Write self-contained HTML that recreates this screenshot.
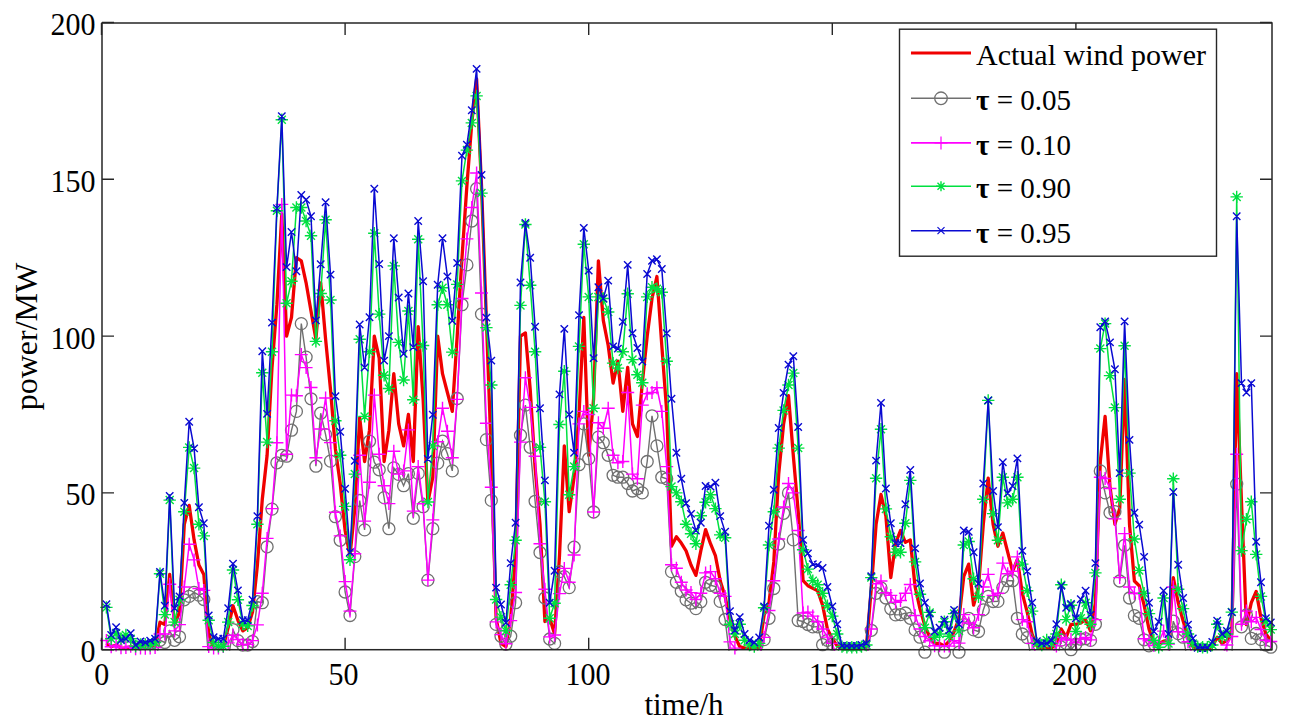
<!DOCTYPE html>
<html><head><meta charset="utf-8"><title>Wind power quantile forecast</title>
<style>html,body{margin:0;padding:0;background:#fff;}svg{display:block;}</style>
</head><body>
<svg width="1290" height="728" viewBox="0 0 1290 728" font-family="&quot;Liberation Serif&quot;, serif" font-size="30" fill="#000">
<rect width="1290" height="728" fill="#fff"/>
<defs><clipPath id="c"><rect x="102" y="23" width="1170" height="627.7"/></clipPath></defs>
<g>
<polyline clip-path="url(#c)" fill="none" stroke="#f00000" stroke-width="3.3" stroke-linejoin="round" points="106.4,643.4 111.2,646.6 116.1,645.0 121.0,648.1 125.9,648.1 130.7,646.6 135.6,648.1 140.5,648.1 145.3,648.1 150.2,648.1 155.1,646.6 160.0,622.1 164.8,624.6 169.7,574.4 174.6,624.6 179.5,612.1 184.3,524.3 189.2,505.4 194.1,539.9 198.9,565.0 203.8,574.4 208.7,634.0 213.6,648.1 218.4,648.1 223.3,646.6 228.2,627.7 233.0,605.8 237.9,620.2 242.8,630.9 247.7,627.7 252.5,612.1 257.4,565.0 262.3,499.2 267.1,455.3 272.0,367.5 276.9,304.7 281.8,213.8 286.6,336.1 291.5,317.3 296.4,257.7 301.3,260.8 306.1,282.8 311.0,311.0 315.9,339.2 320.7,282.8 325.6,339.2 330.5,389.4 335.4,449.0 340.2,483.5 345.1,530.5 350.0,555.6 354.8,508.6 359.7,417.6 364.6,461.5 369.5,430.2 374.3,336.1 379.2,358.1 384.1,461.5 388.9,430.2 393.8,373.7 398.7,423.9 403.6,445.9 408.4,414.5 413.3,461.5 418.2,326.7 423.1,398.8 427.9,502.3 432.8,477.2 437.7,336.1 442.5,373.7 447.4,392.5 452.3,411.4 457.2,336.1 462.0,257.7 466.9,185.6 471.8,122.9 476.6,78.9 481.5,185.6 486.4,320.4 491.3,455.3 496.1,618.3 501.0,643.4 505.9,646.6 510.7,618.3 515.6,555.6 520.5,336.1 525.4,333.0 530.2,389.4 535.1,467.8 540.0,524.3 544.9,621.5 549.7,618.3 554.6,634.0 559.5,555.6 564.3,445.9 569.2,511.7 574.1,477.2 579.0,414.5 583.8,317.3 588.7,455.3 593.6,398.8 598.4,260.8 603.3,320.4 608.2,345.5 613.1,383.1 617.9,361.2 622.8,411.4 627.7,367.5 632.5,423.9 637.4,436.5 642.3,383.1 647.2,336.1 652.0,298.5 656.9,276.5 661.8,345.5 666.7,411.4 671.5,546.2 676.4,536.8 681.3,543.1 686.1,550.9 691.0,565.0 695.9,575.4 700.8,550.9 705.6,529.6 710.5,543.7 715.4,555.6 720.2,580.7 725.1,596.4 730.0,619.6 734.9,636.2 739.7,646.6 744.6,648.1 749.5,648.1 754.3,648.1 759.2,648.1 764.1,615.2 769.0,602.7 773.8,561.9 778.7,474.1 783.6,423.9 788.5,395.7 793.3,455.3 798.2,511.7 803.1,580.7 807.9,585.7 812.8,588.2 817.7,590.7 822.6,605.2 827.4,629.0 832.3,638.7 837.2,645.9 842.0,648.1 846.9,648.1 851.8,648.1 856.7,648.1 861.5,648.1 866.4,646.6 871.3,588.2 876.1,524.3 881.0,494.5 885.9,516.1 890.8,577.6 895.6,543.1 900.5,530.5 905.4,542.4 910.3,539.9 915.1,587.0 920.0,608.9 924.9,625.9 929.7,637.2 934.6,643.4 939.5,643.4 944.4,645.9 949.2,641.2 954.1,631.5 959.0,618.3 963.8,576.3 968.7,564.1 973.6,605.2 978.5,587.0 983.3,524.3 988.2,478.2 993.1,524.3 997.9,546.2 1002.8,533.0 1007.7,552.2 1012.6,571.3 1017.4,559.4 1022.3,593.3 1027.2,612.1 1032.1,634.0 1036.9,645.9 1041.8,648.1 1046.7,648.1 1051.5,648.1 1056.4,643.4 1061.3,629.0 1066.2,637.2 1071.0,624.3 1075.9,624.3 1080.8,623.0 1085.6,619.6 1090.5,630.9 1095.4,602.7 1100.3,461.5 1105.1,416.4 1110.0,486.6 1114.9,524.3 1119.7,508.6 1124.6,379.4 1129.5,524.3 1134.4,581.0 1139.2,585.7 1144.1,605.2 1149.0,629.0 1153.9,643.4 1158.7,643.4 1163.6,641.2 1168.5,640.3 1173.3,577.6 1178.2,602.7 1183.1,620.8 1188.0,637.2 1192.8,646.6 1197.7,648.1 1202.6,648.1 1207.4,648.1 1212.3,646.6 1217.2,637.2 1222.1,643.4 1226.9,640.3 1231.8,634.0 1236.7,373.7 1241.5,502.3 1246.4,624.6 1251.3,602.7 1256.2,591.4 1261.0,618.3 1265.9,634.0 1270.8,640.3"/><polyline clip-path="url(#c)" fill="none" stroke="#707070" stroke-width="1.4" points="106.4,662.2 111.2,662.2 116.1,662.2 121.0,662.2 125.9,662.2 130.7,662.2 135.6,662.2 140.5,662.2 145.3,662.2 150.2,662.2 155.1,662.2 160.0,640.3 164.8,642.5 169.7,630.9 174.6,640.3 179.5,636.8 184.3,599.8 189.2,596.4 194.1,592.3 198.9,595.1 203.8,599.5 208.7,659.1 213.6,659.1 218.4,659.1 223.3,659.1 228.2,659.1 233.0,629.6 237.9,640.6 242.8,645.1 247.7,645.0 252.5,641.5 257.4,601.7 262.3,602.7 267.1,546.8 272.0,509.1 276.9,462.8 281.8,455.3 286.6,456.2 291.5,430.2 296.4,411.4 301.3,323.6 306.1,357.1 311.0,398.8 315.9,466.2 320.7,413.2 325.6,434.6 330.5,461.1 335.4,516.7 340.2,540.3 345.1,592.0 350.0,615.5 354.8,556.6 359.7,500.5 364.6,529.9 369.5,441.2 374.3,462.2 379.2,469.8 384.1,497.6 388.9,528.7 393.8,467.9 398.7,474.4 403.6,485.7 408.4,473.7 413.3,518.3 418.2,473.4 423.1,506.7 427.9,580.1 432.8,528.7 437.7,463.1 442.5,441.2 447.4,453.7 452.3,470.9 457.2,398.5 462.0,304.7 466.9,264.9 471.8,221.0 476.6,188.7 481.5,314.1 486.4,439.6 491.3,500.4 496.1,624.4 501.0,636.2 505.9,644.3 510.7,636.2 515.6,602.7 520.5,435.2 525.4,405.1 530.2,447.3 535.1,501.3 540.0,552.5 544.9,598.0 549.7,639.0 554.6,643.4 559.5,571.6 564.3,576.6 569.2,587.6 574.1,547.2 579.0,464.7 583.8,423.9 588.7,458.7 593.6,512.0 598.4,437.1 603.3,442.7 608.2,455.3 613.1,475.3 617.9,477.2 622.8,477.2 627.7,483.5 632.5,491.0 637.4,488.8 642.3,492.9 647.2,461.5 652.0,415.8 656.9,445.9 661.8,477.2 666.7,478.8 671.5,571.6 676.4,582.3 681.3,591.3 686.1,599.8 691.0,603.2 695.9,608.6 700.8,601.7 705.6,582.3 710.5,585.3 715.4,586.5 720.2,601.4 725.1,619.5 730.0,659.1 734.9,659.1 739.7,659.1 744.6,659.1 749.5,659.1 754.3,659.1 759.2,659.1 764.1,639.6 769.0,618.3 773.8,588.5 778.7,544.0 783.6,513.3 788.5,492.9 793.3,539.9 798.2,620.5 803.1,621.5 807.9,624.5 812.8,626.9 817.7,626.8 822.6,644.7 827.4,640.3 832.3,644.1 837.2,659.1 842.0,659.1 846.9,659.1 851.8,659.1 856.7,659.1 861.5,659.1 866.4,659.1 871.3,630.3 876.1,593.3 881.0,587.9 885.9,598.0 890.8,608.8 895.6,614.9 900.5,614.6 905.4,613.0 910.3,618.3 915.1,629.9 920.0,637.2 924.9,652.2 929.7,662.2 934.6,662.2 939.5,662.2 944.4,652.2 949.2,662.2 954.1,662.2 959.0,652.2 963.8,624.6 968.7,618.3 973.6,629.9 978.5,631.5 983.3,609.9 988.2,596.4 993.1,601.5 997.9,601.4 1002.8,587.6 1007.7,580.7 1012.6,580.7 1017.4,618.3 1022.3,634.0 1027.2,637.6 1032.1,662.2 1036.9,662.2 1041.8,662.2 1046.7,662.2 1051.5,662.2 1056.4,662.2 1061.3,640.1 1066.2,643.4 1071.0,649.7 1075.9,644.1 1080.8,639.2 1085.6,638.7 1090.5,640.4 1095.4,624.3 1100.3,470.9 1105.1,492.9 1110.0,512.7 1114.9,511.7 1119.7,581.0 1124.6,545.3 1129.5,598.0 1134.4,615.6 1139.2,618.3 1144.1,639.8 1149.0,645.9 1153.9,659.1 1158.7,659.1 1163.6,659.1 1168.5,659.1 1173.3,621.2 1178.2,633.6 1183.1,637.2 1188.0,662.2 1192.8,662.2 1197.7,662.2 1202.6,662.2 1207.4,662.2 1212.3,662.2 1217.2,662.2 1222.1,662.2 1226.9,662.2 1231.8,662.2 1236.7,484.1 1241.5,626.8 1246.4,615.0 1251.3,638.4 1256.2,633.5 1261.0,639.6 1265.9,645.0 1270.8,647.2"/><g fill="none" stroke="#707070" stroke-width="1.3"><circle cx="160.0" cy="640.3" r="6"/><circle cx="164.8" cy="642.5" r="6"/><circle cx="169.7" cy="630.9" r="6"/><circle cx="174.6" cy="640.3" r="6"/><circle cx="179.5" cy="636.8" r="6"/><circle cx="184.3" cy="599.8" r="6"/><circle cx="189.2" cy="596.4" r="6"/><circle cx="194.1" cy="592.3" r="6"/><circle cx="198.9" cy="595.1" r="6"/><circle cx="203.8" cy="599.5" r="6"/><circle cx="233.0" cy="629.6" r="6"/><circle cx="237.9" cy="640.6" r="6"/><circle cx="242.8" cy="645.1" r="6"/><circle cx="247.7" cy="645.0" r="6"/><circle cx="252.5" cy="641.5" r="6"/><circle cx="257.4" cy="601.7" r="6"/><circle cx="262.3" cy="602.7" r="6"/><circle cx="267.1" cy="546.8" r="6"/><circle cx="272.0" cy="509.1" r="6"/><circle cx="276.9" cy="462.8" r="6"/><circle cx="281.8" cy="455.3" r="6"/><circle cx="286.6" cy="456.2" r="6"/><circle cx="291.5" cy="430.2" r="6"/><circle cx="296.4" cy="411.4" r="6"/><circle cx="301.3" cy="323.6" r="6"/><circle cx="306.1" cy="357.1" r="6"/><circle cx="311.0" cy="398.8" r="6"/><circle cx="315.9" cy="466.2" r="6"/><circle cx="320.7" cy="413.2" r="6"/><circle cx="325.6" cy="434.6" r="6"/><circle cx="330.5" cy="461.1" r="6"/><circle cx="335.4" cy="516.7" r="6"/><circle cx="340.2" cy="540.3" r="6"/><circle cx="345.1" cy="592.0" r="6"/><circle cx="350.0" cy="615.5" r="6"/><circle cx="354.8" cy="556.6" r="6"/><circle cx="359.7" cy="500.5" r="6"/><circle cx="364.6" cy="529.9" r="6"/><circle cx="369.5" cy="441.2" r="6"/><circle cx="374.3" cy="462.2" r="6"/><circle cx="379.2" cy="469.8" r="6"/><circle cx="384.1" cy="497.6" r="6"/><circle cx="388.9" cy="528.7" r="6"/><circle cx="393.8" cy="467.9" r="6"/><circle cx="398.7" cy="474.4" r="6"/><circle cx="403.6" cy="485.7" r="6"/><circle cx="408.4" cy="473.7" r="6"/><circle cx="413.3" cy="518.3" r="6"/><circle cx="418.2" cy="473.4" r="6"/><circle cx="423.1" cy="506.7" r="6"/><circle cx="427.9" cy="580.1" r="6"/><circle cx="432.8" cy="528.7" r="6"/><circle cx="437.7" cy="463.1" r="6"/><circle cx="442.5" cy="441.2" r="6"/><circle cx="447.4" cy="453.7" r="6"/><circle cx="452.3" cy="470.9" r="6"/><circle cx="457.2" cy="398.5" r="6"/><circle cx="462.0" cy="304.7" r="6"/><circle cx="466.9" cy="264.9" r="6"/><circle cx="471.8" cy="221.0" r="6"/><circle cx="476.6" cy="188.7" r="6"/><circle cx="481.5" cy="314.1" r="6"/><circle cx="486.4" cy="439.6" r="6"/><circle cx="491.3" cy="500.4" r="6"/><circle cx="496.1" cy="624.4" r="6"/><circle cx="501.0" cy="636.2" r="6"/><circle cx="505.9" cy="644.3" r="6"/><circle cx="510.7" cy="636.2" r="6"/><circle cx="515.6" cy="602.7" r="6"/><circle cx="520.5" cy="435.2" r="6"/><circle cx="525.4" cy="405.1" r="6"/><circle cx="530.2" cy="447.3" r="6"/><circle cx="535.1" cy="501.3" r="6"/><circle cx="540.0" cy="552.5" r="6"/><circle cx="544.9" cy="598.0" r="6"/><circle cx="549.7" cy="639.0" r="6"/><circle cx="554.6" cy="643.4" r="6"/><circle cx="559.5" cy="571.6" r="6"/><circle cx="564.3" cy="576.6" r="6"/><circle cx="569.2" cy="587.6" r="6"/><circle cx="574.1" cy="547.2" r="6"/><circle cx="579.0" cy="464.7" r="6"/><circle cx="583.8" cy="423.9" r="6"/><circle cx="588.7" cy="458.7" r="6"/><circle cx="593.6" cy="512.0" r="6"/><circle cx="598.4" cy="437.1" r="6"/><circle cx="603.3" cy="442.7" r="6"/><circle cx="608.2" cy="455.3" r="6"/><circle cx="613.1" cy="475.3" r="6"/><circle cx="617.9" cy="477.2" r="6"/><circle cx="622.8" cy="477.2" r="6"/><circle cx="627.7" cy="483.5" r="6"/><circle cx="632.5" cy="491.0" r="6"/><circle cx="637.4" cy="488.8" r="6"/><circle cx="642.3" cy="492.9" r="6"/><circle cx="647.2" cy="461.5" r="6"/><circle cx="652.0" cy="415.8" r="6"/><circle cx="656.9" cy="445.9" r="6"/><circle cx="661.8" cy="477.2" r="6"/><circle cx="666.7" cy="478.8" r="6"/><circle cx="671.5" cy="571.6" r="6"/><circle cx="676.4" cy="582.3" r="6"/><circle cx="681.3" cy="591.3" r="6"/><circle cx="686.1" cy="599.8" r="6"/><circle cx="691.0" cy="603.2" r="6"/><circle cx="695.9" cy="608.6" r="6"/><circle cx="700.8" cy="601.7" r="6"/><circle cx="705.6" cy="582.3" r="6"/><circle cx="710.5" cy="585.3" r="6"/><circle cx="715.4" cy="586.5" r="6"/><circle cx="720.2" cy="601.4" r="6"/><circle cx="725.1" cy="619.5" r="6"/><circle cx="764.1" cy="639.6" r="6"/><circle cx="769.0" cy="618.3" r="6"/><circle cx="773.8" cy="588.5" r="6"/><circle cx="778.7" cy="544.0" r="6"/><circle cx="783.6" cy="513.3" r="6"/><circle cx="788.5" cy="492.9" r="6"/><circle cx="793.3" cy="539.9" r="6"/><circle cx="798.2" cy="620.5" r="6"/><circle cx="803.1" cy="621.5" r="6"/><circle cx="807.9" cy="624.5" r="6"/><circle cx="812.8" cy="626.9" r="6"/><circle cx="817.7" cy="626.8" r="6"/><circle cx="822.6" cy="644.7" r="6"/><circle cx="827.4" cy="640.3" r="6"/><circle cx="832.3" cy="644.1" r="6"/><circle cx="871.3" cy="630.3" r="6"/><circle cx="876.1" cy="593.3" r="6"/><circle cx="881.0" cy="587.9" r="6"/><circle cx="885.9" cy="598.0" r="6"/><circle cx="890.8" cy="608.8" r="6"/><circle cx="895.6" cy="614.9" r="6"/><circle cx="900.5" cy="614.6" r="6"/><circle cx="905.4" cy="613.0" r="6"/><circle cx="910.3" cy="618.3" r="6"/><circle cx="915.1" cy="629.9" r="6"/><circle cx="920.0" cy="637.2" r="6"/><circle cx="924.9" cy="652.2" r="6"/><circle cx="944.4" cy="652.2" r="6"/><circle cx="959.0" cy="652.2" r="6"/><circle cx="963.8" cy="624.6" r="6"/><circle cx="968.7" cy="618.3" r="6"/><circle cx="973.6" cy="629.9" r="6"/><circle cx="978.5" cy="631.5" r="6"/><circle cx="983.3" cy="609.9" r="6"/><circle cx="988.2" cy="596.4" r="6"/><circle cx="993.1" cy="601.5" r="6"/><circle cx="997.9" cy="601.4" r="6"/><circle cx="1002.8" cy="587.6" r="6"/><circle cx="1007.7" cy="580.7" r="6"/><circle cx="1012.6" cy="580.7" r="6"/><circle cx="1017.4" cy="618.3" r="6"/><circle cx="1022.3" cy="634.0" r="6"/><circle cx="1027.2" cy="637.6" r="6"/><circle cx="1061.3" cy="640.1" r="6"/><circle cx="1066.2" cy="643.4" r="6"/><circle cx="1071.0" cy="649.7" r="6"/><circle cx="1075.9" cy="644.1" r="6"/><circle cx="1080.8" cy="639.2" r="6"/><circle cx="1085.6" cy="638.7" r="6"/><circle cx="1090.5" cy="640.4" r="6"/><circle cx="1095.4" cy="624.3" r="6"/><circle cx="1100.3" cy="470.9" r="6"/><circle cx="1105.1" cy="492.9" r="6"/><circle cx="1110.0" cy="512.7" r="6"/><circle cx="1114.9" cy="511.7" r="6"/><circle cx="1119.7" cy="581.0" r="6"/><circle cx="1124.6" cy="545.3" r="6"/><circle cx="1129.5" cy="598.0" r="6"/><circle cx="1134.4" cy="615.6" r="6"/><circle cx="1139.2" cy="618.3" r="6"/><circle cx="1144.1" cy="639.8" r="6"/><circle cx="1149.0" cy="645.9" r="6"/><circle cx="1173.3" cy="621.2" r="6"/><circle cx="1178.2" cy="633.6" r="6"/><circle cx="1183.1" cy="637.2" r="6"/><circle cx="1236.7" cy="484.1" r="6"/><circle cx="1241.5" cy="626.8" r="6"/><circle cx="1246.4" cy="615.0" r="6"/><circle cx="1251.3" cy="638.4" r="6"/><circle cx="1256.2" cy="633.5" r="6"/><circle cx="1261.0" cy="639.6" r="6"/><circle cx="1265.9" cy="645.0" r="6"/><circle cx="1270.8" cy="647.2" r="6"/></g><polyline clip-path="url(#c)" fill="none" stroke="#ff00ff" stroke-width="1.5" points="106.4,640.5 111.2,646.7 116.1,645.1 121.0,647.8 125.9,647.5 130.7,646.3 135.6,648.8 140.5,648.1 145.3,648.2 150.2,647.9 155.1,647.5 160.0,634.0 164.8,634.0 169.7,584.2 174.6,630.9 179.5,624.6 184.3,587.0 189.2,544.3 194.1,559.9 198.9,588.5 203.8,590.4 208.7,646.6 213.6,648.1 218.4,648.1 223.3,646.6 228.2,642.9 233.0,635.3 237.9,639.5 242.8,644.5 247.7,644.4 252.5,640.6 257.4,624.9 262.3,593.3 267.1,538.4 272.0,508.6 276.9,442.7 281.8,204.4 286.6,454.3 291.5,395.1 296.4,395.7 301.3,354.6 306.1,367.6 311.0,387.5 315.9,457.8 320.7,429.0 325.6,398.0 330.5,442.6 335.4,512.3 340.2,535.9 345.1,581.6 350.0,611.1 354.8,553.7 359.7,455.3 364.6,521.1 369.5,482.2 374.3,395.1 379.2,454.3 384.1,485.7 388.9,503.6 393.8,451.2 398.7,474.1 403.6,470.9 408.4,429.9 413.3,511.1 418.2,466.6 423.1,503.7 427.9,580.1 432.8,519.9 437.7,441.7 442.5,408.2 447.4,431.3 452.3,457.8 457.2,399.4 462.0,298.5 466.9,238.9 471.8,207.5 476.6,173.0 481.5,293.0 486.4,423.3 491.3,487.3 496.1,621.9 501.0,634.6 505.9,643.7 510.7,620.6 515.6,592.5 520.5,442.1 525.4,377.8 530.2,407.4 535.1,456.2 540.0,543.7 544.9,589.2 549.7,636.9 554.6,635.0 559.5,593.6 564.3,568.4 569.2,582.3 574.1,555.0 579.0,423.9 583.8,411.4 588.7,414.5 593.6,512.0 598.4,422.7 603.3,428.3 608.2,408.2 613.1,455.3 617.9,462.8 622.8,461.5 627.7,392.5 632.5,474.1 637.4,478.8 642.3,405.1 647.2,393.8 652.0,392.5 656.9,387.8 661.8,411.4 666.7,466.6 671.5,564.7 676.4,568.2 681.3,582.3 686.1,590.0 691.0,592.6 695.9,599.5 700.8,593.2 705.6,572.9 710.5,571.6 715.4,578.8 720.2,593.3 725.1,596.4 730.0,641.9 734.9,648.1 739.7,656.0 744.6,656.0 749.5,656.0 754.3,656.0 759.2,656.0 764.1,637.4 769.0,610.5 773.8,580.7 778.7,539.0 783.6,507.0 788.5,483.5 793.3,492.9 798.2,530.5 803.1,613.0 807.9,612.1 812.8,616.1 817.7,621.8 822.6,629.0 827.4,637.1 832.3,643.4 837.2,659.1 842.0,659.1 846.9,659.1 851.8,659.1 856.7,659.1 861.5,659.1 866.4,659.1 871.3,629.0 876.1,583.8 881.0,581.0 885.9,592.7 890.8,595.4 895.6,602.2 900.5,600.5 905.4,593.3 910.3,584.5 915.1,615.5 920.0,629.0 924.9,636.5 929.7,640.8 934.6,645.8 939.5,645.7 944.4,645.9 949.2,646.1 954.1,640.8 959.0,643.1 963.8,614.6 968.7,623.0 973.6,627.7 978.5,614.6 983.3,587.0 988.2,574.4 993.1,595.4 997.9,593.3 1002.8,563.1 1007.7,573.8 1012.6,571.3 1017.4,556.9 1022.3,619.6 1027.2,621.8 1032.1,643.4 1036.9,656.0 1041.8,656.0 1046.7,656.0 1051.5,656.0 1056.4,645.9 1061.3,637.5 1066.2,640.0 1071.0,639.4 1075.9,642.8 1080.8,638.9 1085.6,637.5 1090.5,639.9 1095.4,619.6 1100.3,477.2 1105.1,478.5 1110.0,488.5 1114.9,518.9 1119.7,577.6 1124.6,533.6 1129.5,587.0 1134.4,593.6 1139.2,593.3 1144.1,638.7 1149.0,640.7 1153.9,645.5 1158.7,642.1 1163.6,631.1 1168.5,644.1 1173.3,587.0 1178.2,631.8 1183.1,631.8 1188.0,641.7 1192.8,656.0 1197.7,656.0 1202.6,656.0 1207.4,656.0 1212.3,656.0 1217.2,656.0 1222.1,656.0 1226.9,645.0 1231.8,636.5 1236.7,454.3 1241.5,624.3 1246.4,611.1 1251.3,621.8 1256.2,617.4 1261.0,629.5 1265.9,640.3 1270.8,641.5"/><path fill="none" stroke="#ff00ff" stroke-width="1.4" d="M99.9 640.5H112.9M106.4 634.0V647.0M104.7 646.7H117.7M111.2 640.2V653.2M109.6 645.1H122.6M116.1 638.6V651.6M114.5 647.8H127.5M121.0 641.3V654.3M119.4 647.5H132.4M125.9 641.0V654.0M124.2 646.3H137.2M130.7 639.8V652.8M129.1 648.8H142.1M135.6 642.3V655.3M134.0 648.1H147.0M140.5 641.6V654.6M138.8 648.2H151.8M145.3 641.7V654.7M143.7 647.9H156.7M150.2 641.4V654.4M148.6 647.5H161.6M155.1 641.0V654.0M153.5 634.0H166.5M160.0 627.5V640.5M158.3 634.0H171.3M164.8 627.5V640.5M163.2 584.2H176.2M169.7 577.7V590.7M168.1 630.9H181.1M174.6 624.4V637.4M173.0 624.6H186.0M179.5 618.1V631.1M177.8 587.0H190.8M184.3 580.5V593.5M182.7 544.3H195.7M189.2 537.8V550.8M187.6 559.9H200.6M194.1 553.4V566.4M192.4 588.5H205.4M198.9 582.0V595.0M197.3 590.4H210.3M203.8 583.9V596.9M202.2 646.6H215.2M208.7 640.1V653.1M207.1 648.1H220.1M213.6 641.6V654.6M211.9 648.1H224.9M218.4 641.6V654.6M216.8 646.6H229.8M223.3 640.1V653.1M221.7 642.9H234.7M228.2 636.4V649.4M226.5 635.3H239.5M233.0 628.8V641.8M231.4 639.5H244.4M237.9 633.0V646.0M236.3 644.5H249.3M242.8 638.0V651.0M241.2 644.4H254.2M247.7 637.9V650.9M246.0 640.6H259.0M252.5 634.1V647.1M250.9 624.9H263.9M257.4 618.4V631.4M255.8 593.3H268.8M262.3 586.8V599.8M260.6 538.4H273.6M267.1 531.9V544.9M265.5 508.6H278.5M272.0 502.1V515.1M270.4 442.7H283.4M276.9 436.2V449.2M275.3 204.4H288.3M281.8 197.9V210.9M280.1 454.3H293.1M286.6 447.8V460.8M285.0 395.1H298.0M291.5 388.6V401.6M289.9 395.7H302.9M296.4 389.2V402.2M294.8 354.6H307.8M301.3 348.1V361.1M299.6 367.6H312.6M306.1 361.1V374.1M304.5 387.5H317.5M311.0 381.0V394.0M309.4 457.8H322.4M315.9 451.3V464.3M314.2 429.0H327.2M320.7 422.5V435.5M319.1 398.0H332.1M325.6 391.5V404.5M324.0 442.6H337.0M330.5 436.1V449.1M328.9 512.3H341.9M335.4 505.8V518.8M333.7 535.9H346.7M340.2 529.4V542.4M338.6 581.6H351.6M345.1 575.1V588.1M343.5 611.1H356.5M350.0 604.6V617.6M348.3 553.7H361.3M354.8 547.2V560.2M353.2 455.3H366.2M359.7 448.8V461.8M358.1 521.1H371.1M364.6 514.6V527.6M363.0 482.2H376.0M369.5 475.7V488.7M367.8 395.1H380.8M374.3 388.6V401.6M372.7 454.3H385.7M379.2 447.8V460.8M377.6 485.7H390.6M384.1 479.2V492.2M382.4 503.6H395.4M388.9 497.1V510.1M387.3 451.2H400.3M393.8 444.7V457.7M392.2 474.1H405.2M398.7 467.6V480.6M397.1 470.9H410.1M403.6 464.4V477.4M401.9 429.9H414.9M408.4 423.4V436.4M406.8 511.1H419.8M413.3 504.6V517.6M411.7 466.6H424.7M418.2 460.1V473.1M416.6 503.7H429.6M423.1 497.2V510.2M421.4 580.1H434.4M427.9 573.6V586.6M426.3 519.9H439.3M432.8 513.4V526.4M431.2 441.7H444.2M437.7 435.2V448.2M436.0 408.2H449.0M442.5 401.7V414.7M440.9 431.3H453.9M447.4 424.8V437.8M445.8 457.8H458.8M452.3 451.3V464.3M450.7 399.4H463.7M457.2 392.9V405.9M455.5 298.5H468.5M462.0 292.0V305.0M460.4 238.9H473.4M466.9 232.4V245.4M465.3 207.5H478.3M471.8 201.0V214.0M470.1 173.0H483.1M476.6 166.5V179.5M475.0 293.0H488.0M481.5 286.5V299.5M479.9 423.3H492.9M486.4 416.8V429.8M484.8 487.3H497.8M491.3 480.8V493.8M489.6 621.9H502.6M496.1 615.4V628.4M494.5 634.6H507.5M501.0 628.1V641.1M499.4 643.7H512.4M505.9 637.2V650.2M504.2 620.6H517.2M510.7 614.1V627.1M509.1 592.5H522.1M515.6 586.0V599.0M514.0 442.1H527.0M520.5 435.6V448.6M518.9 377.8H531.9M525.4 371.3V384.3M523.7 407.4H536.7M530.2 400.9V413.9M528.6 456.2H541.6M535.1 449.7V462.7M533.5 543.7H546.5M540.0 537.2V550.2M538.4 589.2H551.4M544.9 582.7V595.7M543.2 636.9H556.2M549.7 630.4V643.4M548.1 635.0H561.1M554.6 628.5V641.5M553.0 593.6H566.0M559.5 587.1V600.1M557.8 568.4H570.8M564.3 561.9V574.9M562.7 582.3H575.7M569.2 575.8V588.8M567.6 555.0H580.6M574.1 548.5V561.5M572.5 423.9H585.5M579.0 417.4V430.4M577.3 411.4H590.3M583.8 404.9V417.9M582.2 414.5H595.2M588.7 408.0V421.0M587.1 512.0H600.1M593.6 505.5V518.5M591.9 422.7H604.9M598.4 416.2V429.2M596.8 428.3H609.8M603.3 421.8V434.8M601.7 408.2H614.7M608.2 401.7V414.7M606.6 455.3H619.6M613.1 448.8V461.8M611.4 462.8H624.4M617.9 456.3V469.3M616.3 461.5H629.3M622.8 455.0V468.0M621.2 392.5H634.2M627.7 386.0V399.0M626.0 474.1H639.0M632.5 467.6V480.6M630.9 478.8H643.9M637.4 472.3V485.3M635.8 405.1H648.8M642.3 398.6V411.6M640.7 393.8H653.7M647.2 387.3V400.3M645.5 392.5H658.5M652.0 386.0V399.0M650.4 387.8H663.4M656.9 381.3V394.3M655.3 411.4H668.3M661.8 404.9V417.9M660.2 466.6H673.2M666.7 460.1V473.1M665.0 564.7H678.0M671.5 558.2V571.2M669.9 568.2H682.9M676.4 561.7V574.7M674.8 582.3H687.8M681.3 575.8V588.8M679.6 590.0H692.6M686.1 583.5V596.5M684.5 592.6H697.5M691.0 586.1V599.1M689.4 599.5H702.4M695.9 593.0V606.0M694.3 593.2H707.3M700.8 586.7V599.7M699.1 572.9H712.1M705.6 566.4V579.4M704.0 571.6H717.0M710.5 565.1V578.1M708.9 578.8H721.9M715.4 572.3V585.3M713.7 593.3H726.7M720.2 586.8V599.8M718.6 596.4H731.6M725.1 589.9V602.9M723.5 641.9H736.5M730.0 635.4V648.4M728.4 648.1H741.4M734.9 641.6V654.6M757.6 637.4H770.6M764.1 630.9V643.9M762.5 610.5H775.5M769.0 604.0V617.0M767.3 580.7H780.3M773.8 574.2V587.2M772.2 539.0H785.2M778.7 532.5V545.5M777.1 507.0H790.1M783.6 500.5V513.5M782.0 483.5H795.0M788.5 477.0V490.0M786.8 492.9H799.8M793.3 486.4V499.4M791.7 530.5H804.7M798.2 524.0V537.0M796.6 613.0H809.6M803.1 606.5V619.5M801.4 612.1H814.4M807.9 605.6V618.6M806.3 616.1H819.3M812.8 609.6V622.6M811.2 621.8H824.2M817.7 615.3V628.3M816.1 629.0H829.1M822.6 622.5V635.5M820.9 637.1H833.9M827.4 630.6V643.6M825.8 643.4H838.8M832.3 636.9V649.9M864.8 629.0H877.8M871.3 622.5V635.5M869.6 583.8H882.6M876.1 577.3V590.3M874.5 581.0H887.5M881.0 574.5V587.5M879.4 592.7H892.4M885.9 586.2V599.2M884.3 595.4H897.3M890.8 588.9V601.9M889.1 602.2H902.1M895.6 595.7V608.7M894.0 600.5H907.0M900.5 594.0V607.0M898.9 593.3H911.9M905.4 586.8V599.8M903.8 584.5H916.8M910.3 578.0V591.0M908.6 615.5H921.6M915.1 609.0V622.0M913.5 629.0H926.5M920.0 622.5V635.5M918.4 636.5H931.4M924.9 630.0V643.0M923.2 640.8H936.2M929.7 634.3V647.3M928.1 645.8H941.1M934.6 639.3V652.3M933.0 645.7H946.0M939.5 639.2V652.2M937.9 645.9H950.9M944.4 639.4V652.4M942.7 646.1H955.7M949.2 639.6V652.6M947.6 640.8H960.6M954.1 634.3V647.3M952.5 643.1H965.5M959.0 636.6V649.6M957.3 614.6H970.3M963.8 608.1V621.1M962.2 623.0H975.2M968.7 616.5V629.5M967.1 627.7H980.1M973.6 621.2V634.2M972.0 614.6H985.0M978.5 608.1V621.1M976.8 587.0H989.8M983.3 580.5V593.5M981.7 574.4H994.7M988.2 567.9V580.9M986.6 595.4H999.6M993.1 588.9V601.9M991.4 593.3H1004.4M997.9 586.8V599.8M996.3 563.1H1009.3M1002.8 556.6V569.6M1001.2 573.8H1014.2M1007.7 567.3V580.3M1006.1 571.3H1019.1M1012.6 564.8V577.8M1010.9 556.9H1023.9M1017.4 550.4V563.4M1015.8 619.6H1028.8M1022.3 613.1V626.1M1020.7 621.8H1033.7M1027.2 615.3V628.3M1025.6 643.4H1038.6M1032.1 636.9V649.9M1049.9 645.9H1062.9M1056.4 639.4V652.4M1054.8 637.5H1067.8M1061.3 631.0V644.0M1059.7 640.0H1072.7M1066.2 633.5V646.5M1064.5 639.4H1077.5M1071.0 632.9V645.9M1069.4 642.8H1082.4M1075.9 636.3V649.3M1074.3 638.9H1087.3M1080.8 632.4V645.4M1079.1 637.5H1092.1M1085.6 631.0V644.0M1084.0 639.9H1097.0M1090.5 633.4V646.4M1088.9 619.6H1101.9M1095.4 613.1V626.1M1093.8 477.2H1106.8M1100.3 470.7V483.7M1098.6 478.5H1111.6M1105.1 472.0V485.0M1103.5 488.5H1116.5M1110.0 482.0V495.0M1108.4 518.9H1121.4M1114.9 512.4V525.4M1113.2 577.6H1126.2M1119.7 571.1V584.1M1118.1 533.6H1131.1M1124.6 527.1V540.1M1123.0 587.0H1136.0M1129.5 580.5V593.5M1127.9 593.6H1140.9M1134.4 587.1V600.1M1132.7 593.3H1145.7M1139.2 586.8V599.8M1137.6 638.7H1150.6M1144.1 632.2V645.2M1142.5 640.7H1155.5M1149.0 634.2V647.2M1147.4 645.5H1160.4M1153.9 639.0V652.0M1152.2 642.1H1165.2M1158.7 635.6V648.6M1157.1 631.1H1170.1M1163.6 624.6V637.6M1162.0 644.1H1175.0M1168.5 637.6V650.6M1166.8 587.0H1179.8M1173.3 580.5V593.5M1171.7 631.8H1184.7M1178.2 625.3V638.3M1176.6 631.8H1189.6M1183.1 625.3V638.3M1181.5 641.7H1194.5M1188.0 635.2V648.2M1220.4 645.0H1233.4M1226.9 638.5V651.5M1225.3 636.5H1238.3M1231.8 630.0V643.0M1230.2 454.3H1243.2M1236.7 447.8V460.8M1235.0 624.3H1248.0M1241.5 617.8V630.8M1239.9 611.1H1252.9M1246.4 604.6V617.6M1244.8 621.8H1257.8M1251.3 615.3V628.3M1249.7 617.4H1262.7M1256.2 610.9V623.9M1254.5 629.5H1267.5M1261.0 623.0V636.0M1259.4 640.3H1272.4M1265.9 633.8V646.8M1264.3 641.5H1277.3M1270.8 635.0V648.0"/><polyline clip-path="url(#c)" fill="none" stroke="#00e040" stroke-width="1.5" points="106.4,607.4 111.2,638.7 116.1,633.1 121.0,638.7 125.9,635.0 130.7,638.7 135.6,646.3 140.5,644.4 145.3,644.4 150.2,645.3 155.1,642.5 160.0,573.8 164.8,614.6 169.7,500.1 174.6,622.1 179.5,599.8 184.3,511.7 189.2,447.4 194.1,468.1 198.9,524.3 203.8,535.9 208.7,620.2 213.6,642.5 218.4,646.3 223.3,646.3 228.2,622.1 233.0,570.0 237.9,599.8 242.8,624.0 247.7,625.9 252.5,605.5 257.4,524.3 262.3,372.8 267.1,442.1 272.0,351.8 276.9,210.7 281.8,119.7 286.6,303.2 291.5,281.2 296.4,207.5 301.3,207.5 306.1,221.0 311.0,235.7 315.9,341.4 320.7,293.5 325.6,219.8 330.5,300.0 335.4,420.8 340.2,455.3 345.1,506.4 350.0,559.7 354.8,474.1 359.7,339.2 364.6,416.4 369.5,351.8 374.3,233.2 379.2,314.1 384.1,375.3 388.9,388.5 393.8,265.9 398.7,342.4 403.6,380.0 408.4,311.0 413.3,399.8 418.2,239.2 423.1,345.5 427.9,502.0 432.8,445.9 437.7,304.7 442.5,287.8 447.4,304.7 452.3,352.1 457.2,284.4 462.0,180.9 466.9,150.1 471.8,122.9 476.6,95.9 481.5,193.1 486.4,327.6 491.3,385.0 496.1,599.5 501.0,617.1 505.9,630.9 510.7,584.8 515.6,540.3 520.5,305.4 525.4,224.5 530.2,285.3 535.1,351.8 540.0,447.4 544.9,501.7 549.7,618.3 554.6,603.3 559.5,424.5 564.3,371.2 569.2,494.8 574.1,466.6 579.0,346.4 583.8,244.2 588.7,296.9 593.6,408.2 598.4,296.9 603.3,298.5 608.2,312.0 613.1,363.1 617.9,368.1 622.8,351.8 627.7,293.8 632.5,359.6 637.4,374.7 642.3,382.8 647.2,296.9 652.0,287.2 656.9,288.7 661.8,292.2 666.7,361.2 671.5,486.6 676.4,492.9 681.3,501.7 686.1,524.3 691.0,533.7 695.9,543.7 700.8,515.8 705.6,502.3 710.5,494.8 715.4,508.6 720.2,534.9 725.1,537.7 730.0,624.3 734.9,634.0 739.7,624.3 744.6,640.3 749.5,645.0 754.3,646.6 759.2,643.4 764.1,607.7 769.0,545.0 773.8,511.7 778.7,448.1 783.6,410.4 788.5,385.0 793.3,373.1 798.2,448.1 803.1,549.7 807.9,569.1 812.8,580.7 817.7,584.8 822.6,593.3 827.4,605.8 832.3,616.1 837.2,634.0 842.0,646.6 846.9,647.2 851.8,647.2 856.7,647.2 861.5,646.6 866.4,645.0 871.3,577.6 876.1,478.2 881.0,429.2 885.9,508.9 890.8,536.8 895.6,552.2 900.5,552.2 905.4,523.3 910.3,480.4 915.1,561.9 920.0,594.2 924.9,627.7 929.7,612.4 934.6,637.2 939.5,634.0 944.4,621.8 949.2,636.2 954.1,613.6 959.0,630.9 963.8,545.0 968.7,541.5 973.6,578.8 978.5,596.7 983.3,499.2 988.2,400.4 993.1,513.6 997.9,540.3 1002.8,477.2 1007.7,502.9 1012.6,499.2 1017.4,477.2 1022.3,564.1 1027.2,590.7 1032.1,611.1 1036.9,643.4 1041.8,645.0 1046.7,640.0 1051.5,643.4 1056.4,634.0 1061.3,584.8 1066.2,619.6 1071.0,605.2 1075.9,631.5 1080.8,618.3 1085.6,602.7 1090.5,624.3 1095.4,572.9 1100.3,348.6 1105.1,323.6 1110.0,375.6 1114.9,407.6 1119.7,499.2 1124.6,345.8 1129.5,473.1 1134.4,539.0 1139.2,570.4 1144.1,593.3 1149.0,613.6 1153.9,640.3 1158.7,647.2 1163.6,598.0 1168.5,643.4 1173.3,478.8 1178.2,589.2 1183.1,608.6 1188.0,634.0 1192.8,643.4 1197.7,646.6 1202.6,647.2 1207.4,647.2 1212.3,645.0 1217.2,624.3 1222.1,637.2 1226.9,634.0 1231.8,612.1 1236.7,196.9 1241.5,550.6 1246.4,519.2 1251.3,501.7 1256.2,554.4 1261.0,596.4 1265.9,621.5 1270.8,629.6"/><path fill="none" stroke="#00e040" stroke-width="1.4" d="M100.2 607.4H112.6M106.4 601.2V613.6M102.4 603.4L110.4 611.4M102.4 611.4L110.4 603.4M105.0 638.7H117.4M111.2 632.5V644.9M107.2 634.7L115.2 642.7M107.2 642.7L115.2 634.7M109.9 633.1H122.3M116.1 626.9V639.3M112.1 629.1L120.1 637.1M112.1 637.1L120.1 629.1M114.8 638.7H127.2M121.0 632.5V644.9M117.0 634.7L125.0 642.7M117.0 642.7L125.0 634.7M119.7 635.0H132.1M125.9 628.8V641.2M121.9 631.0L129.9 639.0M121.9 639.0L129.9 631.0M124.5 638.7H136.9M130.7 632.5V644.9M126.7 634.7L134.7 642.7M126.7 642.7L134.7 634.7M129.4 646.3H141.8M135.6 640.1V652.5M131.6 642.3L139.6 650.3M131.6 650.3L139.6 642.3M134.3 644.4H146.7M140.5 638.2V650.6M136.5 640.4L144.5 648.4M136.5 648.4L144.5 640.4M139.1 644.4H151.5M145.3 638.2V650.6M141.3 640.4L149.3 648.4M141.3 648.4L149.3 640.4M144.0 645.3H156.4M150.2 639.1V651.5M146.2 641.3L154.2 649.3M146.2 649.3L154.2 641.3M148.9 642.5H161.3M155.1 636.3V648.7M151.1 638.5L159.1 646.5M151.1 646.5L159.1 638.5M153.8 573.8H166.2M160.0 567.6V580.0M156.0 569.8L164.0 577.8M156.0 577.8L164.0 569.8M158.6 614.6H171.0M164.8 608.4V620.8M160.8 610.6L168.8 618.6M160.8 618.6L168.8 610.6M163.5 500.1H175.9M169.7 493.9V506.3M165.7 496.1L173.7 504.1M165.7 504.1L173.7 496.1M168.4 622.1H180.8M174.6 615.9V628.3M170.6 618.1L178.6 626.1M170.6 626.1L178.6 618.1M173.3 599.8H185.7M179.5 593.6V606.0M175.5 595.8L183.5 603.8M175.5 603.8L183.5 595.8M178.1 511.7H190.5M184.3 505.5V517.9M180.3 507.7L188.3 515.7M180.3 515.7L188.3 507.7M183.0 447.4H195.4M189.2 441.2V453.6M185.2 443.4L193.2 451.4M185.2 451.4L193.2 443.4M187.9 468.1H200.3M194.1 461.9V474.3M190.1 464.1L198.1 472.1M190.1 472.1L198.1 464.1M192.7 524.3H205.1M198.9 518.1V530.5M194.9 520.3L202.9 528.3M194.9 528.3L202.9 520.3M197.6 535.9H210.0M203.8 529.7V542.1M199.8 531.9L207.8 539.9M199.8 539.9L207.8 531.9M202.5 620.2H214.9M208.7 614.0V626.4M204.7 616.2L212.7 624.2M204.7 624.2L212.7 616.2M207.4 642.5H219.8M213.6 636.3V648.7M209.6 638.5L217.6 646.5M209.6 646.5L217.6 638.5M212.2 646.3H224.6M218.4 640.1V652.5M214.4 642.3L222.4 650.3M214.4 650.3L222.4 642.3M217.1 646.3H229.5M223.3 640.1V652.5M219.3 642.3L227.3 650.3M219.3 650.3L227.3 642.3M222.0 622.1H234.4M228.2 615.9V628.3M224.2 618.1L232.2 626.1M224.2 626.1L232.2 618.1M226.8 570.0H239.2M233.0 563.8V576.2M229.0 566.0L237.0 574.0M229.0 574.0L237.0 566.0M231.7 599.8H244.1M237.9 593.6V606.0M233.9 595.8L241.9 603.8M233.9 603.8L241.9 595.8M236.6 624.0H249.0M242.8 617.8V630.2M238.8 620.0L246.8 628.0M238.8 628.0L246.8 620.0M241.5 625.9H253.9M247.7 619.7V632.1M243.7 621.9L251.7 629.9M243.7 629.9L251.7 621.9M246.3 605.5H258.7M252.5 599.3V611.7M248.5 601.5L256.5 609.5M248.5 609.5L256.5 601.5M251.2 524.3H263.6M257.4 518.1V530.5M253.4 520.3L261.4 528.3M253.4 528.3L261.4 520.3M256.1 372.8H268.5M262.3 366.6V379.0M258.3 368.8L266.3 376.8M258.3 376.8L266.3 368.8M260.9 442.1H273.3M267.1 435.9V448.3M263.1 438.1L271.1 446.1M263.1 446.1L271.1 438.1M265.8 351.8H278.2M272.0 345.6V358.0M268.0 347.8L276.0 355.8M268.0 355.8L276.0 347.8M270.7 210.7H283.1M276.9 204.5V216.9M272.9 206.7L280.9 214.7M272.9 214.7L280.9 206.7M275.6 119.7H288.0M281.8 113.5V125.9M277.8 115.7L285.8 123.7M277.8 123.7L285.8 115.7M280.4 303.2H292.8M286.6 297.0V309.4M282.6 299.2L290.6 307.2M282.6 307.2L290.6 299.2M285.3 281.2H297.7M291.5 275.0V287.4M287.5 277.2L295.5 285.2M287.5 285.2L295.5 277.2M290.2 207.5H302.6M296.4 201.3V213.7M292.4 203.5L300.4 211.5M292.4 211.5L300.4 203.5M295.1 207.5H307.5M301.3 201.3V213.7M297.3 203.5L305.3 211.5M297.3 211.5L305.3 203.5M299.9 221.0H312.3M306.1 214.8V227.2M302.1 217.0L310.1 225.0M302.1 225.0L310.1 217.0M304.8 235.7H317.2M311.0 229.5V241.9M307.0 231.7L315.0 239.7M307.0 239.7L315.0 231.7M309.7 341.4H322.1M315.9 335.2V347.6M311.9 337.4L319.9 345.4M311.9 345.4L319.9 337.4M314.5 293.5H326.9M320.7 287.3V299.7M316.7 289.5L324.7 297.5M316.7 297.5L324.7 289.5M319.4 219.8H331.8M325.6 213.6V226.0M321.6 215.8L329.6 223.8M321.6 223.8L329.6 215.8M324.3 300.0H336.7M330.5 293.8V306.2M326.5 296.0L334.5 304.0M326.5 304.0L334.5 296.0M329.2 420.8H341.6M335.4 414.6V427.0M331.4 416.8L339.4 424.8M331.4 424.8L339.4 416.8M334.0 455.3H346.4M340.2 449.1V461.5M336.2 451.3L344.2 459.3M336.2 459.3L344.2 451.3M338.9 506.4H351.3M345.1 500.2V512.6M341.1 502.4L349.1 510.4M341.1 510.4L349.1 502.4M343.8 559.7H356.2M350.0 553.5V565.9M346.0 555.7L354.0 563.7M346.0 563.7L354.0 555.7M348.6 474.1H361.0M354.8 467.9V480.3M350.8 470.1L358.8 478.1M350.8 478.1L358.8 470.1M353.5 339.2H365.9M359.7 333.0V345.4M355.7 335.2L363.7 343.2M355.7 343.2L363.7 335.2M358.4 416.4H370.8M364.6 410.2V422.6M360.6 412.4L368.6 420.4M360.6 420.4L368.6 412.4M363.3 351.8H375.7M369.5 345.6V358.0M365.5 347.8L373.5 355.8M365.5 355.8L373.5 347.8M368.1 233.2H380.5M374.3 227.0V239.4M370.3 229.2L378.3 237.2M370.3 237.2L378.3 229.2M373.0 314.1H385.4M379.2 307.9V320.3M375.2 310.1L383.2 318.1M375.2 318.1L383.2 310.1M377.9 375.3H390.3M384.1 369.1V381.5M380.1 371.3L388.1 379.3M380.1 379.3L388.1 371.3M382.7 388.5H395.1M388.9 382.3V394.7M384.9 384.5L392.9 392.5M384.9 392.5L392.9 384.5M387.6 265.9H400.0M393.8 259.7V272.1M389.8 261.9L397.8 269.9M389.8 269.9L397.8 261.9M392.5 342.4H404.9M398.7 336.2V348.6M394.7 338.4L402.7 346.4M394.7 346.4L402.7 338.4M397.4 380.0H409.8M403.6 373.8V386.2M399.6 376.0L407.6 384.0M399.6 384.0L407.6 376.0M402.2 311.0H414.6M408.4 304.8V317.2M404.4 307.0L412.4 315.0M404.4 315.0L412.4 307.0M407.1 399.8H419.5M413.3 393.6V406.0M409.3 395.8L417.3 403.8M409.3 403.8L417.3 395.8M412.0 239.2H424.4M418.2 233.0V245.4M414.2 235.2L422.2 243.2M414.2 243.2L422.2 235.2M416.9 345.5H429.3M423.1 339.3V351.7M419.1 341.5L427.1 349.5M419.1 349.5L427.1 341.5M421.7 502.0H434.1M427.9 495.8V508.2M423.9 498.0L431.9 506.0M423.9 506.0L431.9 498.0M426.6 445.9H439.0M432.8 439.7V452.1M428.8 441.9L436.8 449.9M428.8 449.9L436.8 441.9M431.5 304.7H443.9M437.7 298.5V310.9M433.7 300.7L441.7 308.7M433.7 308.7L441.7 300.7M436.3 287.8H448.7M442.5 281.6V294.0M438.5 283.8L446.5 291.8M438.5 291.8L446.5 283.8M441.2 304.7H453.6M447.4 298.5V310.9M443.4 300.7L451.4 308.7M443.4 308.7L451.4 300.7M446.1 352.1H458.5M452.3 345.9V358.3M448.3 348.1L456.3 356.1M448.3 356.1L456.3 348.1M451.0 284.4H463.4M457.2 278.2V290.6M453.2 280.4L461.2 288.4M453.2 288.4L461.2 280.4M455.8 180.9H468.2M462.0 174.7V187.1M458.0 176.9L466.0 184.9M458.0 184.9L466.0 176.9M460.7 150.1H473.1M466.9 143.9V156.3M462.9 146.1L470.9 154.1M462.9 154.1L470.9 146.1M465.6 122.9H478.0M471.8 116.7V129.1M467.8 118.9L475.8 126.9M467.8 126.9L475.8 118.9M470.4 95.9H482.8M476.6 89.7V102.1M472.6 91.9L480.6 99.9M472.6 99.9L480.6 91.9M475.3 193.1H487.7M481.5 186.9V199.3M477.5 189.1L485.5 197.1M477.5 197.1L485.5 189.1M480.2 327.6H492.6M486.4 321.4V333.8M482.4 323.6L490.4 331.6M482.4 331.6L490.4 323.6M485.1 385.0H497.5M491.3 378.8V391.2M487.3 381.0L495.3 389.0M487.3 389.0L495.3 381.0M489.9 599.5H502.3M496.1 593.3V605.7M492.1 595.5L500.1 603.5M492.1 603.5L500.1 595.5M494.8 617.1H507.2M501.0 610.9V623.3M497.0 613.1L505.0 621.1M497.0 621.1L505.0 613.1M499.7 630.9H512.1M505.9 624.7V637.1M501.9 626.9L509.9 634.9M501.9 634.9L509.9 626.9M504.5 584.8H516.9M510.7 578.6V591.0M506.7 580.8L514.7 588.8M506.7 588.8L514.7 580.8M509.4 540.3H521.8M515.6 534.1V546.5M511.6 536.3L519.6 544.3M511.6 544.3L519.6 536.3M514.3 305.4H526.7M520.5 299.2V311.6M516.5 301.4L524.5 309.4M516.5 309.4L524.5 301.4M519.2 224.5H531.6M525.4 218.3V230.7M521.4 220.5L529.4 228.5M521.4 228.5L529.4 220.5M524.0 285.3H536.4M530.2 279.1V291.5M526.2 281.3L534.2 289.3M526.2 289.3L534.2 281.3M528.9 351.8H541.3M535.1 345.6V358.0M531.1 347.8L539.1 355.8M531.1 355.8L539.1 347.8M533.8 447.4H546.2M540.0 441.2V453.6M536.0 443.4L544.0 451.4M536.0 451.4L544.0 443.4M538.7 501.7H551.1M544.9 495.5V507.9M540.9 497.7L548.9 505.7M540.9 505.7L548.9 497.7M543.5 618.3H555.9M549.7 612.1V624.5M545.7 614.3L553.7 622.3M545.7 622.3L553.7 614.3M548.4 603.3H560.8M554.6 597.1V609.5M550.6 599.3L558.6 607.3M550.6 607.3L558.6 599.3M553.3 424.5H565.7M559.5 418.3V430.7M555.5 420.5L563.5 428.5M555.5 428.5L563.5 420.5M558.1 371.2H570.5M564.3 365.0V377.4M560.3 367.2L568.3 375.2M560.3 375.2L568.3 367.2M563.0 494.8H575.4M569.2 488.6V501.0M565.2 490.8L573.2 498.8M565.2 498.8L573.2 490.8M567.9 466.6H580.3M574.1 460.4V472.8M570.1 462.6L578.1 470.6M570.1 470.6L578.1 462.6M572.8 346.4H585.2M579.0 340.2V352.6M575.0 342.4L583.0 350.4M575.0 350.4L583.0 342.4M577.6 244.2H590.0M583.8 238.0V250.4M579.8 240.2L587.8 248.2M579.8 248.2L587.8 240.2M582.5 296.9H594.9M588.7 290.7V303.1M584.7 292.9L592.7 300.9M584.7 300.9L592.7 292.9M587.4 408.2H599.8M593.6 402.0V414.4M589.6 404.2L597.6 412.2M589.6 412.2L597.6 404.2M592.2 296.9H604.6M598.4 290.7V303.1M594.4 292.9L602.4 300.9M594.4 300.9L602.4 292.9M597.1 298.5H609.5M603.3 292.3V304.7M599.3 294.5L607.3 302.5M599.3 302.5L607.3 294.5M602.0 312.0H614.4M608.2 305.8V318.2M604.2 308.0L612.2 316.0M604.2 316.0L612.2 308.0M606.9 363.1H619.3M613.1 356.9V369.3M609.1 359.1L617.1 367.1M609.1 367.1L617.1 359.1M611.7 368.1H624.1M617.9 361.9V374.3M613.9 364.1L621.9 372.1M613.9 372.1L621.9 364.1M616.6 351.8H629.0M622.8 345.6V358.0M618.8 347.8L626.8 355.8M618.8 355.8L626.8 347.8M621.5 293.8H633.9M627.7 287.6V300.0M623.7 289.8L631.7 297.8M623.7 297.8L631.7 289.8M626.3 359.6H638.7M632.5 353.4V365.8M628.5 355.6L636.5 363.6M628.5 363.6L636.5 355.6M631.2 374.7H643.6M637.4 368.5V380.9M633.4 370.7L641.4 378.7M633.4 378.7L641.4 370.7M636.1 382.8H648.5M642.3 376.6V389.0M638.3 378.8L646.3 386.8M638.3 386.8L646.3 378.8M641.0 296.9H653.4M647.2 290.7V303.1M643.2 292.9L651.2 300.9M643.2 300.9L651.2 292.9M645.8 287.2H658.2M652.0 281.0V293.4M648.0 283.2L656.0 291.2M648.0 291.2L656.0 283.2M650.7 288.7H663.1M656.9 282.5V294.9M652.9 284.7L660.9 292.7M652.9 292.7L660.9 284.7M655.6 292.2H668.0M661.8 286.0V298.4M657.8 288.2L665.8 296.2M657.8 296.2L665.8 288.2M660.5 361.2H672.9M666.7 355.0V367.4M662.7 357.2L670.7 365.2M662.7 365.2L670.7 357.2M665.3 486.6H677.7M671.5 480.4V492.8M667.5 482.6L675.5 490.6M667.5 490.6L675.5 482.6M670.2 492.9H682.6M676.4 486.7V499.1M672.4 488.9L680.4 496.9M672.4 496.9L680.4 488.9M675.1 501.7H687.5M681.3 495.5V507.9M677.3 497.7L685.3 505.7M677.3 505.7L685.3 497.7M679.9 524.3H692.3M686.1 518.1V530.5M682.1 520.3L690.1 528.3M682.1 528.3L690.1 520.3M684.8 533.7H697.2M691.0 527.5V539.9M687.0 529.7L695.0 537.7M687.0 537.7L695.0 529.7M689.7 543.7H702.1M695.9 537.5V549.9M691.9 539.7L699.9 547.7M691.9 547.7L699.9 539.7M694.6 515.8H707.0M700.8 509.6V522.0M696.8 511.8L704.8 519.8M696.8 519.8L704.8 511.8M699.4 502.3H711.8M705.6 496.1V508.5M701.6 498.3L709.6 506.3M701.6 506.3L709.6 498.3M704.3 494.8H716.7M710.5 488.6V501.0M706.5 490.8L714.5 498.8M706.5 498.8L714.5 490.8M709.2 508.6H721.6M715.4 502.4V514.8M711.4 504.6L719.4 512.6M711.4 512.6L719.4 504.6M714.0 534.9H726.4M720.2 528.7V541.1M716.2 530.9L724.2 538.9M716.2 538.9L724.2 530.9M718.9 537.7H731.3M725.1 531.5V543.9M721.1 533.7L729.1 541.7M721.1 541.7L729.1 533.7M723.8 624.3H736.2M730.0 618.1V630.5M726.0 620.3L734.0 628.3M726.0 628.3L734.0 620.3M728.7 634.0H741.1M734.9 627.8V640.2M730.9 630.0L738.9 638.0M730.9 638.0L738.9 630.0M733.5 624.3H745.9M739.7 618.1V630.5M735.7 620.3L743.7 628.3M735.7 628.3L743.7 620.3M738.4 640.3H750.8M744.6 634.1V646.5M740.6 636.3L748.6 644.3M740.6 644.3L748.6 636.3M743.3 645.0H755.7M749.5 638.8V651.2M745.5 641.0L753.5 649.0M745.5 649.0L753.5 641.0M748.1 646.6H760.5M754.3 640.4V652.8M750.3 642.6L758.3 650.6M750.3 650.6L758.3 642.6M753.0 643.4H765.4M759.2 637.2V649.6M755.2 639.4L763.2 647.4M755.2 647.4L763.2 639.4M757.9 607.7H770.3M764.1 601.5V613.9M760.1 603.7L768.1 611.7M760.1 611.7L768.1 603.7M762.8 545.0H775.2M769.0 538.8V551.2M765.0 541.0L773.0 549.0M765.0 549.0L773.0 541.0M767.6 511.7H780.0M773.8 505.5V517.9M769.8 507.7L777.8 515.7M769.8 515.7L777.8 507.7M772.5 448.1H784.9M778.7 441.9V454.3M774.7 444.1L782.7 452.1M774.7 452.1L782.7 444.1M777.4 410.4H789.8M783.6 404.2V416.6M779.6 406.4L787.6 414.4M779.6 414.4L787.6 406.4M782.3 385.0H794.7M788.5 378.8V391.2M784.5 381.0L792.5 389.0M784.5 389.0L792.5 381.0M787.1 373.1H799.5M793.3 366.9V379.3M789.3 369.1L797.3 377.1M789.3 377.1L797.3 369.1M792.0 448.1H804.4M798.2 441.9V454.3M794.2 444.1L802.2 452.1M794.2 452.1L802.2 444.1M796.9 549.7H809.3M803.1 543.5V555.9M799.1 545.7L807.1 553.7M799.1 553.7L807.1 545.7M801.7 569.1H814.1M807.9 562.9V575.3M803.9 565.1L811.9 573.1M803.9 573.1L811.9 565.1M806.6 580.7H819.0M812.8 574.5V586.9M808.8 576.7L816.8 584.7M808.8 584.7L816.8 576.7M811.5 584.8H823.9M817.7 578.6V591.0M813.7 580.8L821.7 588.8M813.7 588.8L821.7 580.8M816.4 593.3H828.8M822.6 587.1V599.5M818.6 589.3L826.6 597.3M818.6 597.3L826.6 589.3M821.2 605.8H833.6M827.4 599.6V612.0M823.4 601.8L831.4 609.8M823.4 609.8L831.4 601.8M826.1 616.1H838.5M832.3 609.9V622.3M828.3 612.1L836.3 620.1M828.3 620.1L836.3 612.1M831.0 634.0H843.4M837.2 627.8V640.2M833.2 630.0L841.2 638.0M833.2 638.0L841.2 630.0M835.8 646.6H848.2M842.0 640.4V652.8M838.0 642.6L846.0 650.6M838.0 650.6L846.0 642.6M840.7 647.2H853.1M846.9 641.0V653.4M842.9 643.2L850.9 651.2M842.9 651.2L850.9 643.2M845.6 647.2H858.0M851.8 641.0V653.4M847.8 643.2L855.8 651.2M847.8 651.2L855.8 643.2M850.5 647.2H862.9M856.7 641.0V653.4M852.7 643.2L860.7 651.2M852.7 651.2L860.7 643.2M855.3 646.6H867.7M861.5 640.4V652.8M857.5 642.6L865.5 650.6M857.5 650.6L865.5 642.6M860.2 645.0H872.6M866.4 638.8V651.2M862.4 641.0L870.4 649.0M862.4 649.0L870.4 641.0M865.1 577.6H877.5M871.3 571.4V583.8M867.3 573.6L875.3 581.6M867.3 581.6L875.3 573.6M869.9 478.2H882.3M876.1 472.0V484.4M872.1 474.2L880.1 482.2M872.1 482.2L880.1 474.2M874.8 429.2H887.2M881.0 423.0V435.4M877.0 425.2L885.0 433.2M877.0 433.2L885.0 425.2M879.7 508.9H892.1M885.9 502.7V515.1M881.9 504.9L889.9 512.9M881.9 512.9L889.9 504.9M884.6 536.8H897.0M890.8 530.6V543.0M886.8 532.8L894.8 540.8M886.8 540.8L894.8 532.8M889.4 552.2H901.8M895.6 546.0V558.4M891.6 548.2L899.6 556.2M891.6 556.2L899.6 548.2M894.3 552.2H906.7M900.5 546.0V558.4M896.5 548.2L904.5 556.2M896.5 556.2L904.5 548.2M899.2 523.3H911.6M905.4 517.1V529.5M901.4 519.3L909.4 527.3M901.4 527.3L909.4 519.3M904.1 480.4H916.5M910.3 474.2V486.6M906.3 476.4L914.3 484.4M906.3 484.4L914.3 476.4M908.9 561.9H921.3M915.1 555.7V568.1M911.1 557.9L919.1 565.9M911.1 565.9L919.1 557.9M913.8 594.2H926.2M920.0 588.0V600.4M916.0 590.2L924.0 598.2M916.0 598.2L924.0 590.2M918.7 627.7H931.1M924.9 621.5V633.9M920.9 623.7L928.9 631.7M920.9 631.7L928.9 623.7M923.5 612.4H935.9M929.7 606.2V618.6M925.7 608.4L933.7 616.4M925.7 616.4L933.7 608.4M928.4 637.2H940.8M934.6 631.0V643.4M930.6 633.2L938.6 641.2M930.6 641.2L938.6 633.2M933.3 634.0H945.7M939.5 627.8V640.2M935.5 630.0L943.5 638.0M935.5 638.0L943.5 630.0M938.2 621.8H950.6M944.4 615.6V628.0M940.4 617.8L948.4 625.8M940.4 625.8L948.4 617.8M943.0 636.2H955.4M949.2 630.0V642.4M945.2 632.2L953.2 640.2M945.2 640.2L953.2 632.2M947.9 613.6H960.3M954.1 607.4V619.8M950.1 609.6L958.1 617.6M950.1 617.6L958.1 609.6M952.8 630.9H965.2M959.0 624.7V637.1M955.0 626.9L963.0 634.9M955.0 634.9L963.0 626.9M957.6 545.0H970.0M963.8 538.8V551.2M959.8 541.0L967.8 549.0M959.8 549.0L967.8 541.0M962.5 541.5H974.9M968.7 535.3V547.7M964.7 537.5L972.7 545.5M964.7 545.5L972.7 537.5M967.4 578.8H979.8M973.6 572.6V585.0M969.6 574.8L977.6 582.8M969.6 582.8L977.6 574.8M972.3 596.7H984.7M978.5 590.5V602.9M974.5 592.7L982.5 600.7M974.5 600.7L982.5 592.7M977.1 499.2H989.5M983.3 493.0V505.4M979.3 495.2L987.3 503.2M979.3 503.2L987.3 495.2M982.0 400.4H994.4M988.2 394.2V406.6M984.2 396.4L992.2 404.4M984.2 404.4L992.2 396.4M986.9 513.6H999.3M993.1 507.4V519.8M989.1 509.6L997.1 517.6M989.1 517.6L997.1 509.6M991.7 540.3H1004.1M997.9 534.1V546.5M993.9 536.3L1001.9 544.3M993.9 544.3L1001.9 536.3M996.6 477.2H1009.0M1002.8 471.0V483.4M998.8 473.2L1006.8 481.2M998.8 481.2L1006.8 473.2M1001.5 502.9H1013.9M1007.7 496.7V509.1M1003.7 498.9L1011.7 506.9M1003.7 506.9L1011.7 498.9M1006.4 499.2H1018.8M1012.6 493.0V505.4M1008.6 495.2L1016.6 503.2M1008.6 503.2L1016.6 495.2M1011.2 477.2H1023.6M1017.4 471.0V483.4M1013.4 473.2L1021.4 481.2M1013.4 481.2L1021.4 473.2M1016.1 564.1H1028.5M1022.3 557.9V570.3M1018.3 560.1L1026.3 568.1M1018.3 568.1L1026.3 560.1M1021.0 590.7H1033.4M1027.2 584.5V596.9M1023.2 586.7L1031.2 594.7M1023.2 594.7L1031.2 586.7M1025.9 611.1H1038.3M1032.1 604.9V617.3M1028.1 607.1L1036.1 615.1M1028.1 615.1L1036.1 607.1M1030.7 643.4H1043.1M1036.9 637.2V649.6M1032.9 639.4L1040.9 647.4M1032.9 647.4L1040.9 639.4M1035.6 645.0H1048.0M1041.8 638.8V651.2M1037.8 641.0L1045.8 649.0M1037.8 649.0L1045.8 641.0M1040.5 640.0H1052.9M1046.7 633.8V646.2M1042.7 636.0L1050.7 644.0M1042.7 644.0L1050.7 636.0M1045.3 643.4H1057.7M1051.5 637.2V649.6M1047.5 639.4L1055.5 647.4M1047.5 647.4L1055.5 639.4M1050.2 634.0H1062.6M1056.4 627.8V640.2M1052.4 630.0L1060.4 638.0M1052.4 638.0L1060.4 630.0M1055.1 584.8H1067.5M1061.3 578.6V591.0M1057.3 580.8L1065.3 588.8M1057.3 588.8L1065.3 580.8M1060.0 619.6H1072.4M1066.2 613.4V625.8M1062.2 615.6L1070.2 623.6M1062.2 623.6L1070.2 615.6M1064.8 605.2H1077.2M1071.0 599.0V611.4M1067.0 601.2L1075.0 609.2M1067.0 609.2L1075.0 601.2M1069.7 631.5H1082.1M1075.9 625.3V637.7M1071.9 627.5L1079.9 635.5M1071.9 635.5L1079.9 627.5M1074.6 618.3H1087.0M1080.8 612.1V624.5M1076.8 614.3L1084.8 622.3M1076.8 622.3L1084.8 614.3M1079.4 602.7H1091.8M1085.6 596.5V608.9M1081.6 598.7L1089.6 606.7M1081.6 606.7L1089.6 598.7M1084.3 624.3H1096.7M1090.5 618.1V630.5M1086.5 620.3L1094.5 628.3M1086.5 628.3L1094.5 620.3M1089.2 572.9H1101.6M1095.4 566.7V579.1M1091.4 568.9L1099.4 576.9M1091.4 576.9L1099.4 568.9M1094.1 348.6H1106.5M1100.3 342.4V354.8M1096.3 344.6L1104.3 352.6M1096.3 352.6L1104.3 344.6M1098.9 323.6H1111.3M1105.1 317.4V329.8M1101.1 319.6L1109.1 327.6M1101.1 327.6L1109.1 319.6M1103.8 375.6H1116.2M1110.0 369.4V381.8M1106.0 371.6L1114.0 379.6M1106.0 379.6L1114.0 371.6M1108.7 407.6H1121.1M1114.9 401.4V413.8M1110.9 403.6L1118.9 411.6M1110.9 411.6L1118.9 403.6M1113.5 499.2H1125.9M1119.7 493.0V505.4M1115.7 495.2L1123.7 503.2M1115.7 503.2L1123.7 495.2M1118.4 345.8H1130.8M1124.6 339.6V352.0M1120.6 341.8L1128.6 349.8M1120.6 349.8L1128.6 341.8M1123.3 473.1H1135.7M1129.5 466.9V479.3M1125.5 469.1L1133.5 477.1M1125.5 477.1L1133.5 469.1M1128.2 539.0H1140.6M1134.4 532.8V545.2M1130.4 535.0L1138.4 543.0M1130.4 543.0L1138.4 535.0M1133.0 570.4H1145.4M1139.2 564.2V576.6M1135.2 566.4L1143.2 574.4M1135.2 574.4L1143.2 566.4M1137.9 593.3H1150.3M1144.1 587.1V599.5M1140.1 589.3L1148.1 597.3M1140.1 597.3L1148.1 589.3M1142.8 613.6H1155.2M1149.0 607.4V619.8M1145.0 609.6L1153.0 617.6M1145.0 617.6L1153.0 609.6M1147.7 640.3H1160.1M1153.9 634.1V646.5M1149.9 636.3L1157.9 644.3M1149.9 644.3L1157.9 636.3M1152.5 647.2H1164.9M1158.7 641.0V653.4M1154.7 643.2L1162.7 651.2M1154.7 651.2L1162.7 643.2M1157.4 598.0H1169.8M1163.6 591.8V604.2M1159.6 594.0L1167.6 602.0M1159.6 602.0L1167.6 594.0M1162.3 643.4H1174.7M1168.5 637.2V649.6M1164.5 639.4L1172.5 647.4M1164.5 647.4L1172.5 639.4M1167.1 478.8H1179.5M1173.3 472.6V485.0M1169.3 474.8L1177.3 482.8M1169.3 482.8L1177.3 474.8M1172.0 589.2H1184.4M1178.2 583.0V595.4M1174.2 585.2L1182.2 593.2M1174.2 593.2L1182.2 585.2M1176.9 608.6H1189.3M1183.1 602.4V614.8M1179.1 604.6L1187.1 612.6M1179.1 612.6L1187.1 604.6M1181.8 634.0H1194.2M1188.0 627.8V640.2M1184.0 630.0L1192.0 638.0M1184.0 638.0L1192.0 630.0M1186.6 643.4H1199.0M1192.8 637.2V649.6M1188.8 639.4L1196.8 647.4M1188.8 647.4L1196.8 639.4M1191.5 646.6H1203.9M1197.7 640.4V652.8M1193.7 642.6L1201.7 650.6M1193.7 650.6L1201.7 642.6M1196.4 647.2H1208.8M1202.6 641.0V653.4M1198.6 643.2L1206.6 651.2M1198.6 651.2L1206.6 643.2M1201.2 647.2H1213.6M1207.4 641.0V653.4M1203.4 643.2L1211.4 651.2M1203.4 651.2L1211.4 643.2M1206.1 645.0H1218.5M1212.3 638.8V651.2M1208.3 641.0L1216.3 649.0M1208.3 649.0L1216.3 641.0M1211.0 624.3H1223.4M1217.2 618.1V630.5M1213.2 620.3L1221.2 628.3M1213.2 628.3L1221.2 620.3M1215.9 637.2H1228.3M1222.1 631.0V643.4M1218.1 633.2L1226.1 641.2M1218.1 641.2L1226.1 633.2M1220.7 634.0H1233.1M1226.9 627.8V640.2M1222.9 630.0L1230.9 638.0M1222.9 638.0L1230.9 630.0M1225.6 612.1H1238.0M1231.8 605.9V618.3M1227.8 608.1L1235.8 616.1M1227.8 616.1L1235.8 608.1M1230.5 196.9H1242.9M1236.7 190.7V203.1M1232.7 192.9L1240.7 200.9M1232.7 200.9L1240.7 192.9M1235.3 550.6H1247.7M1241.5 544.4V556.8M1237.5 546.6L1245.5 554.6M1237.5 554.6L1245.5 546.6M1240.2 519.2H1252.6M1246.4 513.0V525.4M1242.4 515.2L1250.4 523.2M1242.4 523.2L1250.4 515.2M1245.1 501.7H1257.5M1251.3 495.5V507.9M1247.3 497.7L1255.3 505.7M1247.3 505.7L1255.3 497.7M1250.0 554.4H1262.4M1256.2 548.2V560.6M1252.2 550.4L1260.2 558.4M1252.2 558.4L1260.2 550.4M1254.8 596.4H1267.2M1261.0 590.2V602.6M1257.0 592.4L1265.0 600.4M1257.0 600.4L1265.0 592.4M1259.7 621.5H1272.1M1265.9 615.3V627.7M1261.9 617.5L1269.9 625.5M1261.9 625.5L1269.9 617.5M1264.6 629.6H1277.0M1270.8 623.4V635.8M1266.8 625.6L1274.8 633.6M1266.8 633.6L1274.8 625.6"/><polyline clip-path="url(#c)" fill="none" stroke="#0a0ad2" stroke-width="1.5" points="106.4,604.2 111.2,635.0 116.1,627.1 121.0,640.3 125.9,638.7 130.7,633.1 135.6,645.0 140.5,641.5 145.3,642.5 150.2,640.6 155.1,638.7 160.0,571.9 164.8,605.8 169.7,496.0 174.6,608.3 179.5,596.4 184.3,502.9 189.2,421.7 194.1,448.4 198.9,507.3 203.8,523.3 208.7,615.5 213.6,637.2 218.4,638.7 223.3,638.7 228.2,608.3 233.0,563.8 237.9,590.4 242.8,620.2 247.7,620.2 252.5,599.8 257.4,516.1 262.3,351.2 267.1,413.9 272.0,322.6 276.9,208.2 281.8,116.3 286.6,267.1 291.5,232.0 296.4,271.2 301.3,195.0 306.1,199.7 311.0,216.3 315.9,320.4 320.7,264.3 325.6,202.2 330.5,274.6 335.4,396.3 340.2,431.7 345.1,488.8 350.0,552.2 354.8,460.9 359.7,324.5 364.6,367.5 369.5,317.3 374.3,188.7 379.2,264.0 384.1,360.6 388.9,336.1 393.8,238.3 398.7,297.5 403.6,353.7 408.4,293.5 413.3,347.1 418.2,221.0 423.1,281.2 427.9,459.0 432.8,414.8 437.7,284.7 442.5,238.3 447.4,276.5 452.3,320.7 457.2,263.0 462.0,155.8 466.9,144.8 471.8,110.3 476.6,68.9 481.5,174.9 486.4,317.6 491.3,360.6 496.1,587.6 501.0,604.5 505.9,622.7 510.7,563.1 515.6,522.7 520.5,282.5 525.4,222.9 530.2,257.7 535.1,326.7 540.0,408.2 544.9,480.4 549.7,602.7 554.6,570.7 559.5,394.4 564.3,328.9 569.2,414.5 574.1,452.8 579.0,315.1 583.8,227.9 588.7,270.6 593.6,358.1 598.4,287.2 603.3,298.5 608.2,280.6 613.1,346.4 617.9,348.6 622.8,321.7 627.7,264.9 632.5,333.3 637.4,348.0 642.3,361.5 647.2,274.0 652.0,260.8 656.9,259.3 661.8,269.0 666.7,333.3 671.5,398.8 676.4,452.8 681.3,478.8 686.1,503.2 691.0,513.9 695.9,530.5 700.8,522.7 705.6,486.0 710.5,486.6 715.4,482.6 720.2,516.1 725.1,531.8 730.0,611.1 734.9,630.3 739.7,617.1 744.6,634.0 749.5,640.3 754.3,642.5 759.2,637.5 764.1,606.4 769.0,525.8 773.8,489.8 778.7,428.0 783.6,392.9 788.5,364.6 793.3,356.2 798.2,427.0 803.1,539.9 807.9,553.4 812.8,564.1 817.7,565.0 822.6,567.9 827.4,587.0 832.3,606.4 837.2,624.3 842.0,645.9 846.9,645.9 851.8,645.9 856.7,645.9 861.5,645.0 866.4,643.4 871.3,576.3 876.1,460.6 881.0,402.9 885.9,488.5 890.8,523.3 895.6,543.1 900.5,543.1 905.4,504.2 910.3,470.0 915.1,548.4 920.0,583.5 924.9,602.7 929.7,613.6 934.6,631.5 939.5,627.7 944.4,619.6 949.2,630.3 954.1,609.9 959.0,624.3 963.8,530.5 968.7,531.8 973.6,552.2 978.5,583.5 983.3,483.5 988.2,400.4 993.1,491.0 997.9,527.1 1002.8,462.2 1007.7,493.2 1012.6,486.0 1017.4,458.4 1022.3,550.9 1027.2,571.3 1032.1,602.7 1036.9,641.2 1041.8,643.4 1046.7,643.4 1051.5,640.3 1056.4,624.3 1061.3,585.7 1066.2,607.7 1071.0,603.9 1075.9,618.3 1080.8,599.2 1085.6,590.7 1090.5,614.6 1095.4,563.1 1100.3,327.3 1105.1,321.4 1110.0,342.4 1114.9,369.3 1119.7,473.1 1124.6,321.4 1129.5,439.9 1134.4,512.7 1139.2,524.6 1144.1,556.9 1149.0,602.7 1153.9,631.5 1158.7,621.8 1163.6,590.7 1168.5,634.0 1173.3,492.0 1178.2,564.7 1183.1,598.0 1188.0,624.6 1192.8,638.4 1197.7,647.8 1202.6,647.8 1207.4,647.8 1212.3,641.9 1217.2,620.8 1222.1,634.0 1226.9,630.9 1231.8,612.1 1236.7,216.3 1241.5,383.1 1246.4,392.5 1251.3,383.1 1256.2,541.8 1261.0,582.3 1265.9,618.3 1270.8,622.4"/><path fill="none" stroke="#0a0ad2" stroke-width="1.4" d="M102.7 600.5L110.1 607.9M102.7 607.9L110.1 600.5M107.5 631.3L114.9 638.7M107.5 638.7L114.9 631.3M112.4 623.4L119.8 630.8M112.4 630.8L119.8 623.4M117.3 636.6L124.7 644.0M117.3 644.0L124.7 636.6M122.2 635.0L129.6 642.4M122.2 642.4L129.6 635.0M127.0 629.4L134.4 636.8M127.0 636.8L134.4 629.4M131.9 641.3L139.3 648.7M131.9 648.7L139.3 641.3M136.8 637.8L144.2 645.2M136.8 645.2L144.2 637.8M141.6 638.8L149.0 646.2M141.6 646.2L149.0 638.8M146.5 636.9L153.9 644.3M146.5 644.3L153.9 636.9M151.4 635.0L158.8 642.4M151.4 642.4L158.8 635.0M156.3 568.2L163.7 575.6M156.3 575.6L163.7 568.2M161.1 602.1L168.5 609.5M161.1 609.5L168.5 602.1M166.0 492.3L173.4 499.7M166.0 499.7L173.4 492.3M170.9 604.6L178.3 612.0M170.9 612.0L178.3 604.6M175.8 592.7L183.2 600.1M175.8 600.1L183.2 592.7M180.6 499.2L188.0 506.6M180.6 506.6L188.0 499.2M185.5 418.0L192.9 425.4M185.5 425.4L192.9 418.0M190.4 444.7L197.8 452.1M190.4 452.1L197.8 444.7M195.2 503.6L202.6 511.0M195.2 511.0L202.6 503.6M200.1 519.6L207.5 527.0M200.1 527.0L207.5 519.6M205.0 611.8L212.4 619.2M205.0 619.2L212.4 611.8M209.9 633.5L217.3 640.9M209.9 640.9L217.3 633.5M214.7 635.0L222.1 642.4M214.7 642.4L222.1 635.0M219.6 635.0L227.0 642.4M219.6 642.4L227.0 635.0M224.5 604.6L231.9 612.0M224.5 612.0L231.9 604.6M229.3 560.1L236.7 567.5M229.3 567.5L236.7 560.1M234.2 586.7L241.6 594.1M234.2 594.1L241.6 586.7M239.1 616.5L246.5 623.9M239.1 623.9L246.5 616.5M244.0 616.5L251.4 623.9M244.0 623.9L251.4 616.5M248.8 596.1L256.2 603.5M248.8 603.5L256.2 596.1M253.7 512.4L261.1 519.8M253.7 519.8L261.1 512.4M258.6 347.5L266.0 354.9M258.6 354.9L266.0 347.5M263.4 410.2L270.8 417.6M263.4 417.6L270.8 410.2M268.3 318.9L275.7 326.3M268.3 326.3L275.7 318.9M273.2 204.5L280.6 211.9M273.2 211.9L280.6 204.5M278.1 112.6L285.5 120.0M278.1 120.0L285.5 112.6M282.9 263.4L290.3 270.8M282.9 270.8L290.3 263.4M287.8 228.3L295.2 235.7M287.8 235.7L295.2 228.3M292.7 267.5L300.1 274.9M292.7 274.9L300.1 267.5M297.6 191.3L305.0 198.7M297.6 198.7L305.0 191.3M302.4 196.0L309.8 203.4M302.4 203.4L309.8 196.0M307.3 212.6L314.7 220.0M307.3 220.0L314.7 212.6M312.2 316.7L319.6 324.1M312.2 324.1L319.6 316.7M317.0 260.6L324.4 268.0M317.0 268.0L324.4 260.6M321.9 198.5L329.3 205.9M321.9 205.9L329.3 198.5M326.8 270.9L334.2 278.3M326.8 278.3L334.2 270.9M331.7 392.6L339.1 400.0M331.7 400.0L339.1 392.6M336.5 428.0L343.9 435.4M336.5 435.4L343.9 428.0M341.4 485.1L348.8 492.5M341.4 492.5L348.8 485.1M346.3 548.5L353.7 555.9M346.3 555.9L353.7 548.5M351.1 457.2L358.5 464.6M351.1 464.6L358.5 457.2M356.0 320.8L363.4 328.2M356.0 328.2L363.4 320.8M360.9 363.8L368.3 371.2M360.9 371.2L368.3 363.8M365.8 313.6L373.2 321.0M365.8 321.0L373.2 313.6M370.6 185.0L378.0 192.4M370.6 192.4L378.0 185.0M375.5 260.3L382.9 267.7M375.5 267.7L382.9 260.3M380.4 356.9L387.8 364.3M380.4 364.3L387.8 356.9M385.2 332.4L392.6 339.8M385.2 339.8L392.6 332.4M390.1 234.6L397.5 242.0M390.1 242.0L397.5 234.6M395.0 293.8L402.4 301.2M395.0 301.2L402.4 293.8M399.9 350.0L407.3 357.4M399.9 357.4L407.3 350.0M404.7 289.8L412.1 297.2M404.7 297.2L412.1 289.8M409.6 343.4L417.0 350.8M409.6 350.8L417.0 343.4M414.5 217.3L421.9 224.7M414.5 224.7L421.9 217.3M419.4 277.5L426.8 284.9M419.4 284.9L426.8 277.5M424.2 455.3L431.6 462.7M424.2 462.7L431.6 455.3M429.1 411.1L436.5 418.5M429.1 418.5L436.5 411.1M434.0 281.0L441.4 288.4M434.0 288.4L441.4 281.0M438.8 234.6L446.2 242.0M438.8 242.0L446.2 234.6M443.7 272.8L451.1 280.2M443.7 280.2L451.1 272.8M448.6 317.0L456.0 324.4M448.6 324.4L456.0 317.0M453.5 259.3L460.9 266.7M453.5 266.7L460.9 259.3M458.3 152.1L465.7 159.5M458.3 159.5L465.7 152.1M463.2 141.1L470.6 148.5M463.2 148.5L470.6 141.1M468.1 106.6L475.5 114.0M468.1 114.0L475.5 106.6M472.9 65.2L480.3 72.6M472.9 72.6L480.3 65.2M477.8 171.2L485.2 178.6M477.8 178.6L485.2 171.2M482.7 313.9L490.1 321.3M482.7 321.3L490.1 313.9M487.6 356.9L495.0 364.3M487.6 364.3L495.0 356.9M492.4 583.9L499.8 591.3M492.4 591.3L499.8 583.9M497.3 600.8L504.7 608.2M497.3 608.2L504.7 600.8M502.2 619.0L509.6 626.4M502.2 626.4L509.6 619.0M507.0 559.4L514.4 566.8M507.0 566.8L514.4 559.4M511.9 519.0L519.3 526.4M511.9 526.4L519.3 519.0M516.8 278.8L524.2 286.2M516.8 286.2L524.2 278.8M521.7 219.2L529.1 226.6M521.7 226.6L529.1 219.2M526.5 254.0L533.9 261.4M526.5 261.4L533.9 254.0M531.4 323.0L538.8 330.4M531.4 330.4L538.8 323.0M536.3 404.5L543.7 411.9M536.3 411.9L543.7 404.5M541.2 476.7L548.6 484.1M541.2 484.1L548.6 476.7M546.0 599.0L553.4 606.4M546.0 606.4L553.4 599.0M550.9 567.0L558.3 574.4M550.9 574.4L558.3 567.0M555.8 390.7L563.2 398.1M555.8 398.1L563.2 390.7M560.6 325.2L568.0 332.6M560.6 332.6L568.0 325.2M565.5 410.8L572.9 418.2M565.5 418.2L572.9 410.8M570.4 449.1L577.8 456.5M570.4 456.5L577.8 449.1M575.3 311.4L582.7 318.8M575.3 318.8L582.7 311.4M580.1 224.2L587.5 231.6M580.1 231.6L587.5 224.2M585.0 266.9L592.4 274.3M585.0 274.3L592.4 266.9M589.9 354.4L597.3 361.8M589.9 361.8L597.3 354.4M594.7 283.5L602.1 290.9M594.7 290.9L602.1 283.5M599.6 294.8L607.0 302.2M599.6 302.2L607.0 294.8M604.5 276.9L611.9 284.3M604.5 284.3L611.9 276.9M609.4 342.7L616.8 350.1M609.4 350.1L616.8 342.7M614.2 344.9L621.6 352.3M614.2 352.3L621.6 344.9M619.1 318.0L626.5 325.4M619.1 325.4L626.5 318.0M624.0 261.2L631.4 268.6M624.0 268.6L631.4 261.2M628.8 329.6L636.2 337.0M628.8 337.0L636.2 329.6M633.7 344.3L641.1 351.7M633.7 351.7L641.1 344.3M638.6 357.8L646.0 365.2M638.6 365.2L646.0 357.8M643.5 270.3L650.9 277.7M643.5 277.7L650.9 270.3M648.3 257.1L655.7 264.5M648.3 264.5L655.7 257.1M653.2 255.6L660.6 263.0M653.2 263.0L660.6 255.6M658.1 265.3L665.5 272.7M658.1 272.7L665.5 265.3M663.0 329.6L670.4 337.0M663.0 337.0L670.4 329.6M667.8 395.1L675.2 402.5M667.8 402.5L675.2 395.1M672.7 449.1L680.1 456.5M672.7 456.5L680.1 449.1M677.6 475.1L685.0 482.5M677.6 482.5L685.0 475.1M682.4 499.5L689.8 506.9M682.4 506.9L689.8 499.5M687.3 510.2L694.7 517.6M687.3 517.6L694.7 510.2M692.2 526.8L699.6 534.2M692.2 534.2L699.6 526.8M697.1 519.0L704.5 526.4M697.1 526.4L704.5 519.0M701.9 482.3L709.3 489.7M701.9 489.7L709.3 482.3M706.8 482.9L714.2 490.3M706.8 490.3L714.2 482.9M711.7 478.9L719.1 486.3M711.7 486.3L719.1 478.9M716.5 512.4L723.9 519.8M716.5 519.8L723.9 512.4M721.4 528.1L728.8 535.5M721.4 535.5L728.8 528.1M726.3 607.4L733.7 614.8M726.3 614.8L733.7 607.4M731.2 626.6L738.6 634.0M731.2 634.0L738.6 626.6M736.0 613.4L743.4 620.8M736.0 620.8L743.4 613.4M740.9 630.3L748.3 637.7M740.9 637.7L748.3 630.3M745.8 636.6L753.2 644.0M745.8 644.0L753.2 636.6M750.6 638.8L758.0 646.2M750.6 646.2L758.0 638.8M755.5 633.8L762.9 641.2M755.5 641.2L762.9 633.8M760.4 602.7L767.8 610.1M760.4 610.1L767.8 602.7M765.3 522.1L772.7 529.5M765.3 529.5L772.7 522.1M770.1 486.1L777.5 493.5M770.1 493.5L777.5 486.1M775.0 424.3L782.4 431.7M775.0 431.7L782.4 424.3M779.9 389.2L787.3 396.6M779.9 396.6L787.3 389.2M784.8 360.9L792.2 368.3M784.8 368.3L792.2 360.9M789.6 352.5L797.0 359.9M789.6 359.9L797.0 352.5M794.5 423.3L801.9 430.7M794.5 430.7L801.9 423.3M799.4 536.2L806.8 543.6M799.4 543.6L806.8 536.2M804.2 549.7L811.6 557.1M804.2 557.1L811.6 549.7M809.1 560.4L816.5 567.8M809.1 567.8L816.5 560.4M814.0 561.3L821.4 568.7M814.0 568.7L821.4 561.3M818.9 564.2L826.3 571.6M818.9 571.6L826.3 564.2M823.7 583.3L831.1 590.7M823.7 590.7L831.1 583.3M828.6 602.7L836.0 610.1M828.6 610.1L836.0 602.7M833.5 620.6L840.9 628.0M833.5 628.0L840.9 620.6M838.3 642.2L845.7 649.6M838.3 649.6L845.7 642.2M843.2 642.2L850.6 649.6M843.2 649.6L850.6 642.2M848.1 642.2L855.5 649.6M848.1 649.6L855.5 642.2M853.0 642.2L860.4 649.6M853.0 649.6L860.4 642.2M857.8 641.3L865.2 648.7M857.8 648.7L865.2 641.3M862.7 639.7L870.1 647.1M862.7 647.1L870.1 639.7M867.6 572.6L875.0 580.0M867.6 580.0L875.0 572.6M872.4 456.9L879.8 464.3M872.4 464.3L879.8 456.9M877.3 399.2L884.7 406.6M877.3 406.6L884.7 399.2M882.2 484.8L889.6 492.2M882.2 492.2L889.6 484.8M887.1 519.6L894.5 527.0M887.1 527.0L894.5 519.6M891.9 539.4L899.3 546.8M891.9 546.8L899.3 539.4M896.8 539.4L904.2 546.8M896.8 546.8L904.2 539.4M901.7 500.5L909.1 507.9M901.7 507.9L909.1 500.5M906.6 466.3L914.0 473.7M906.6 473.7L914.0 466.3M911.4 544.7L918.8 552.1M911.4 552.1L918.8 544.7M916.3 579.8L923.7 587.2M916.3 587.2L923.7 579.8M921.2 599.0L928.6 606.4M921.2 606.4L928.6 599.0M926.0 609.9L933.4 617.3M926.0 617.3L933.4 609.9M930.9 627.8L938.3 635.2M930.9 635.2L938.3 627.8M935.8 624.0L943.2 631.4M935.8 631.4L943.2 624.0M940.7 615.9L948.1 623.3M940.7 623.3L948.1 615.9M945.5 626.6L952.9 634.0M945.5 634.0L952.9 626.6M950.4 606.2L957.8 613.6M950.4 613.6L957.8 606.2M955.3 620.6L962.7 628.0M955.3 628.0L962.7 620.6M960.1 526.8L967.5 534.2M960.1 534.2L967.5 526.8M965.0 528.1L972.4 535.5M965.0 535.5L972.4 528.1M969.9 548.5L977.3 555.9M969.9 555.9L977.3 548.5M974.8 579.8L982.2 587.2M974.8 587.2L982.2 579.8M979.6 479.8L987.0 487.2M979.6 487.2L987.0 479.8M984.5 396.7L991.9 404.1M984.5 404.1L991.9 396.7M989.4 487.3L996.8 494.7M989.4 494.7L996.8 487.3M994.2 523.4L1001.6 530.8M994.2 530.8L1001.6 523.4M999.1 458.5L1006.5 465.9M999.1 465.9L1006.5 458.5M1004.0 489.5L1011.4 496.9M1004.0 496.9L1011.4 489.5M1008.9 482.3L1016.3 489.7M1008.9 489.7L1016.3 482.3M1013.7 454.7L1021.1 462.1M1013.7 462.1L1021.1 454.7M1018.6 547.2L1026.0 554.6M1018.6 554.6L1026.0 547.2M1023.5 567.6L1030.9 575.0M1023.5 575.0L1030.9 567.6M1028.4 599.0L1035.8 606.4M1028.4 606.4L1035.8 599.0M1033.2 637.5L1040.6 644.9M1033.2 644.9L1040.6 637.5M1038.1 639.7L1045.5 647.1M1038.1 647.1L1045.5 639.7M1043.0 639.7L1050.4 647.1M1043.0 647.1L1050.4 639.7M1047.8 636.6L1055.2 644.0M1047.8 644.0L1055.2 636.6M1052.7 620.6L1060.1 628.0M1052.7 628.0L1060.1 620.6M1057.6 582.0L1065.0 589.4M1057.6 589.4L1065.0 582.0M1062.5 604.0L1069.9 611.4M1062.5 611.4L1069.9 604.0M1067.3 600.2L1074.7 607.6M1067.3 607.6L1074.7 600.2M1072.2 614.6L1079.6 622.0M1072.2 622.0L1079.6 614.6M1077.1 595.5L1084.5 602.9M1077.1 602.9L1084.5 595.5M1081.9 587.0L1089.3 594.4M1081.9 594.4L1089.3 587.0M1086.8 610.9L1094.2 618.3M1086.8 618.3L1094.2 610.9M1091.7 559.4L1099.1 566.8M1091.7 566.8L1099.1 559.4M1096.6 323.6L1104.0 331.0M1096.6 331.0L1104.0 323.6M1101.4 317.7L1108.8 325.1M1101.4 325.1L1108.8 317.7M1106.3 338.7L1113.7 346.1M1106.3 346.1L1113.7 338.7M1111.2 365.6L1118.6 373.0M1111.2 373.0L1118.6 365.6M1116.0 469.4L1123.4 476.8M1116.0 476.8L1123.4 469.4M1120.9 317.7L1128.3 325.1M1120.9 325.1L1128.3 317.7M1125.8 436.2L1133.2 443.6M1125.8 443.6L1133.2 436.2M1130.7 509.0L1138.1 516.4M1130.7 516.4L1138.1 509.0M1135.5 520.9L1142.9 528.3M1135.5 528.3L1142.9 520.9M1140.4 553.2L1147.8 560.6M1140.4 560.6L1147.8 553.2M1145.3 599.0L1152.7 606.4M1145.3 606.4L1152.7 599.0M1150.2 627.8L1157.6 635.2M1150.2 635.2L1157.6 627.8M1155.0 618.1L1162.4 625.5M1155.0 625.5L1162.4 618.1M1159.9 587.0L1167.3 594.4M1159.9 594.4L1167.3 587.0M1164.8 630.3L1172.2 637.7M1164.8 637.7L1172.2 630.3M1169.6 488.3L1177.0 495.7M1169.6 495.7L1177.0 488.3M1174.5 561.0L1181.9 568.4M1174.5 568.4L1181.9 561.0M1179.4 594.3L1186.8 601.7M1179.4 601.7L1186.8 594.3M1184.3 620.9L1191.7 628.3M1184.3 628.3L1191.7 620.9M1189.1 634.7L1196.5 642.1M1189.1 642.1L1196.5 634.7M1194.0 644.1L1201.4 651.5M1194.0 651.5L1201.4 644.1M1198.9 644.1L1206.3 651.5M1198.9 651.5L1206.3 644.1M1203.7 644.1L1211.1 651.5M1203.7 651.5L1211.1 644.1M1208.6 638.2L1216.0 645.6M1208.6 645.6L1216.0 638.2M1213.5 617.1L1220.9 624.5M1213.5 624.5L1220.9 617.1M1218.4 630.3L1225.8 637.7M1218.4 637.7L1225.8 630.3M1223.2 627.2L1230.6 634.6M1223.2 634.6L1230.6 627.2M1228.1 608.4L1235.5 615.8M1228.1 615.8L1235.5 608.4M1233.0 212.6L1240.4 220.0M1233.0 220.0L1240.4 212.6M1237.8 379.4L1245.2 386.8M1237.8 386.8L1245.2 379.4M1242.7 388.8L1250.1 396.2M1242.7 396.2L1250.1 388.8M1247.6 379.4L1255.0 386.8M1247.6 386.8L1255.0 379.4M1252.5 538.1L1259.9 545.5M1252.5 545.5L1259.9 538.1M1257.3 578.6L1264.7 586.0M1257.3 586.0L1264.7 578.6M1262.2 614.6L1269.6 622.0M1262.2 622.0L1269.6 614.6M1267.1 618.7L1274.5 626.1M1267.1 626.1L1274.5 618.7"/>
</g>
<rect x="102" y="23" width="1170" height="626.7" fill="none" stroke="#262626" stroke-width="1.5"/>
<path d="M101.5 649.7V637.7M101.5 23V35M345.1 649.7V637.7M345.1 23V35M588.7 649.7V637.7M588.7 23V35M832.3 649.7V637.7M832.3 23V35M1075.9 649.7V637.7M1075.9 23V35M102 649.7H114M1272 649.7H1260M102 492.9H114M1272 492.9H1260M102 336.1H114M1272 336.1H1260M102 179.3H114M1272 179.3H1260M102 22.5H114M1272 22.5H1260" stroke="#262626" stroke-width="1.4" fill="none"/>
<text transform="translate(101.7,684.8) scale(1,1.08)" text-anchor="middle">0</text><text transform="translate(343.5,684.8) scale(1,1.08)" text-anchor="middle">50</text><text transform="translate(587.9,684.8) scale(1,1.08)" text-anchor="middle">100</text><text transform="translate(831.6,684.8) scale(1,1.08)" text-anchor="middle">150</text><text transform="translate(1074.6,684.8) scale(1,1.08)" text-anchor="middle">200</text>
<text transform="translate(95.5,662.2) scale(1,1.08)" text-anchor="end">0</text><text transform="translate(95.5,505.4) scale(1,1.08)" text-anchor="end">50</text><text transform="translate(95.5,348.6) scale(1,1.08)" text-anchor="end">100</text><text transform="translate(95.5,191.8) scale(1,1.08)" text-anchor="end">150</text><text transform="translate(95.5,35.0) scale(1,1.08)" text-anchor="end">200</text>
<text x="684" y="714.5" text-anchor="middle" font-size="31">time/h</text>
<text transform="translate(37.3,336.5) rotate(-90)" text-anchor="middle" font-size="32">power/MW</text>
<rect x="899.5" y="29.2" width="317.0" height="227.0" fill="#fff" stroke="#262626" stroke-width="1.4"/><line x1="911" y1="53.0" x2="971" y2="53.0" stroke="#f00000" stroke-width="3.2"/><line x1="911" y1="98.3" x2="971" y2="98.3" stroke="#707070" stroke-width="1.6"/><circle cx="941" cy="98.3" r="6.3" fill="none" stroke="#707070" stroke-width="1.3"/><line x1="911" y1="142.9" x2="971" y2="142.9" stroke="#ff00ff" stroke-width="1.6"/><path d="M934.5 142.9H947.5M941 136.4V149.4" stroke="#ff00ff" stroke-width="1.2"/><line x1="911" y1="186.3" x2="971" y2="186.3" stroke="#00e040" stroke-width="1.6"/><path d="M936 186.3H946M941 181.3V191.3M937.5 182.8L944.5 189.8M937.5 189.8L944.5 182.8" stroke="#00e040" stroke-width="1.4"/><line x1="911" y1="230.7" x2="971" y2="230.7" stroke="#0a0ad2" stroke-width="1.6"/><path d="M937.5 227.2L944.5 234.2M937.5 234.2L944.5 227.2" stroke="#0a0ad2" stroke-width="1.2"/><text x="976" y="65.0">Actual wind power</text><text x="976" y="110.1" font-size="29"><tspan font-weight="bold">τ</tspan> = 0.05</text><text x="976" y="154.7" font-size="29"><tspan font-weight="bold">τ</tspan> = 0.10</text><text x="976" y="198.1" font-size="29"><tspan font-weight="bold">τ</tspan> = 0.90</text><text x="976" y="242.5" font-size="29"><tspan font-weight="bold">τ</tspan> = 0.95</text>
</svg>
</body></html>
